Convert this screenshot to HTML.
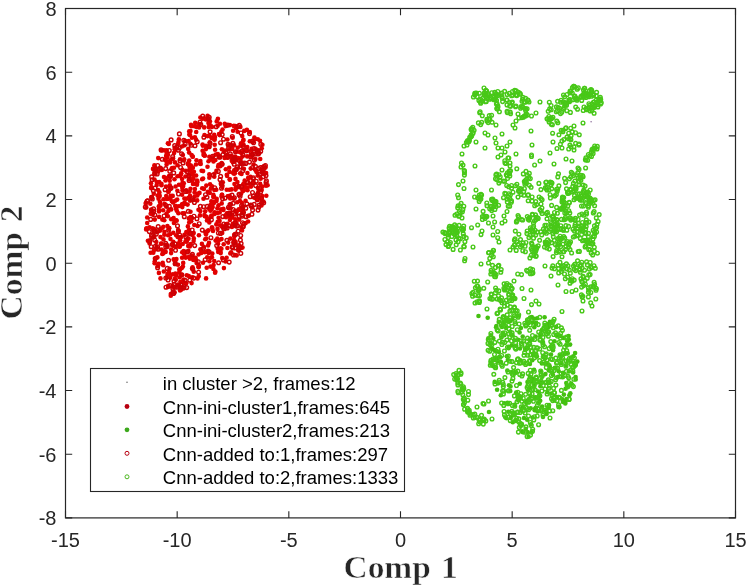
<!DOCTYPE html><html><head><meta charset="utf-8"><style>html,body{margin:0;padding:0;background:#fff;overflow:hidden;}svg{display:block}</style></head><body>
<svg width="748" height="585" viewBox="0 0 748 585">
<rect width="748" height="585" fill="#fff"/>
<g fill="#e20000"><circle cx="200.0" cy="215.4" r="2.3"/><circle cx="259.0" cy="198.2" r="2.3"/><circle cx="207.0" cy="220.5" r="2.3"/><circle cx="166.6" cy="206.7" r="2.3"/><circle cx="222.2" cy="258.1" r="2.3"/><circle cx="155.3" cy="168.5" r="2.3"/><circle cx="154.8" cy="261.2" r="2.3"/><circle cx="225.2" cy="225.6" r="2.3"/><circle cx="209.5" cy="123.9" r="2.3"/><circle cx="167.3" cy="157.3" r="2.3"/><circle cx="198.6" cy="267.2" r="2.3"/><circle cx="208.4" cy="230.2" r="2.3"/><circle cx="206.0" cy="234.2" r="2.3"/><circle cx="200.7" cy="163.9" r="2.3"/><circle cx="182.9" cy="155.0" r="2.3"/><circle cx="239.3" cy="186.3" r="2.3"/><circle cx="249.3" cy="183.7" r="2.3"/><circle cx="257.3" cy="199.0" r="2.3"/><circle cx="266.0" cy="185.7" r="2.3"/><circle cx="152.6" cy="228.2" r="2.3"/><circle cx="240.8" cy="162.4" r="2.3"/><circle cx="154.4" cy="173.9" r="2.3"/><circle cx="158.2" cy="158.1" r="2.3"/><circle cx="243.1" cy="145.5" r="2.3"/><circle cx="213.4" cy="194.9" r="2.3"/><circle cx="167.3" cy="246.9" r="2.3"/><circle cx="159.9" cy="230.8" r="2.3"/><circle cx="158.1" cy="190.0" r="2.3"/><circle cx="170.1" cy="162.4" r="2.3"/><circle cx="181.5" cy="274.9" r="2.3"/><circle cx="169.8" cy="185.2" r="2.3"/><circle cx="170.2" cy="160.3" r="2.3"/><circle cx="240.1" cy="173.2" r="2.3"/><circle cx="154.8" cy="219.6" r="2.3"/><circle cx="173.9" cy="223.0" r="2.3"/><circle cx="190.0" cy="195.9" r="2.3"/><circle cx="263.4" cy="201.5" r="2.3"/><circle cx="215.3" cy="271.6" r="2.3"/><circle cx="174.7" cy="147.7" r="2.3"/><circle cx="168.1" cy="286.9" r="2.3"/><circle cx="196.2" cy="132.0" r="2.3"/><circle cx="173.3" cy="241.9" r="2.3"/><circle cx="175.6" cy="263.7" r="2.3"/><circle cx="218.1" cy="166.7" r="2.3"/><circle cx="165.4" cy="244.8" r="2.3"/><circle cx="213.4" cy="269.0" r="2.3"/><circle cx="220.3" cy="164.3" r="2.3"/><circle cx="258.2" cy="150.3" r="2.3"/><circle cx="199.2" cy="124.1" r="2.3"/><circle cx="165.5" cy="180.5" r="2.3"/><circle cx="215.0" cy="137.1" r="2.3"/><circle cx="188.8" cy="276.0" r="2.3"/><circle cx="229.9" cy="220.0" r="2.3"/><circle cx="146.2" cy="229.4" r="2.3"/><circle cx="203.8" cy="246.7" r="2.3"/><circle cx="152.9" cy="212.9" r="2.3"/><circle cx="235.6" cy="241.8" r="2.3"/><circle cx="187.5" cy="238.4" r="2.3"/><circle cx="195.6" cy="257.7" r="2.3"/><circle cx="221.6" cy="183.0" r="2.3"/><circle cx="216.3" cy="224.4" r="2.3"/><circle cx="153.5" cy="230.0" r="2.3"/><circle cx="234.5" cy="184.1" r="2.3"/><circle cx="235.4" cy="219.3" r="2.3"/><circle cx="198.6" cy="266.4" r="2.3"/><circle cx="154.0" cy="250.3" r="2.3"/><circle cx="147.2" cy="223.0" r="2.3"/><circle cx="203.6" cy="155.1" r="2.3"/><circle cx="230.8" cy="204.0" r="2.3"/><circle cx="181.1" cy="237.1" r="2.3"/><circle cx="168.8" cy="144.0" r="2.3"/><circle cx="198.7" cy="276.2" r="2.3"/><circle cx="184.4" cy="234.9" r="2.3"/><circle cx="168.3" cy="191.9" r="2.3"/><circle cx="253.5" cy="183.3" r="2.3"/><circle cx="216.4" cy="170.9" r="2.3"/><circle cx="160.5" cy="203.9" r="2.3"/><circle cx="178.1" cy="144.0" r="2.3"/><circle cx="199.8" cy="163.4" r="2.3"/><circle cx="170.3" cy="188.8" r="2.3"/><circle cx="221.7" cy="203.4" r="2.3"/><circle cx="182.9" cy="266.6" r="2.3"/><circle cx="266.3" cy="195.8" r="2.3"/><circle cx="232.1" cy="217.4" r="2.3"/><circle cx="182.1" cy="257.8" r="2.3"/><circle cx="200.4" cy="117.5" r="2.3"/><circle cx="247.2" cy="156.4" r="2.3"/><circle cx="222.1" cy="194.7" r="2.3"/><circle cx="222.2" cy="232.9" r="2.3"/><circle cx="229.1" cy="149.5" r="2.3"/><circle cx="202.9" cy="145.7" r="2.3"/><circle cx="232.8" cy="145.8" r="2.3"/><circle cx="177.5" cy="176.3" r="2.3"/><circle cx="230.7" cy="208.2" r="2.3"/><circle cx="220.3" cy="251.4" r="2.3"/><circle cx="192.7" cy="257.9" r="2.3"/><circle cx="159.7" cy="196.0" r="2.3"/><circle cx="190.6" cy="217.1" r="2.3"/><circle cx="261.5" cy="197.9" r="2.3"/><circle cx="224.9" cy="150.5" r="2.3"/><circle cx="223.7" cy="244.3" r="2.3"/><circle cx="170.2" cy="277.7" r="2.3"/><circle cx="210.6" cy="257.7" r="2.3"/><circle cx="183.5" cy="279.5" r="2.3"/><circle cx="250.5" cy="176.8" r="2.3"/><circle cx="153.8" cy="193.7" r="2.3"/><circle cx="212.3" cy="253.6" r="2.3"/><circle cx="204.4" cy="118.2" r="2.3"/><circle cx="243.5" cy="144.6" r="2.3"/><circle cx="185.4" cy="257.2" r="2.3"/><circle cx="208.1" cy="245.4" r="2.3"/><circle cx="261.7" cy="203.1" r="2.3"/><circle cx="171.2" cy="209.4" r="2.3"/><circle cx="179.8" cy="246.4" r="2.3"/><circle cx="223.4" cy="208.7" r="2.3"/><circle cx="249.0" cy="215.5" r="2.3"/><circle cx="182.5" cy="182.8" r="2.3"/><circle cx="169.5" cy="268.7" r="2.3"/><circle cx="215.1" cy="149.8" r="2.3"/><circle cx="210.5" cy="205.1" r="2.3"/><circle cx="193.6" cy="259.6" r="2.3"/><circle cx="213.9" cy="202.9" r="2.3"/><circle cx="229.9" cy="125.1" r="2.3"/><circle cx="210.8" cy="188.7" r="2.3"/><circle cx="177.2" cy="199.6" r="2.3"/><circle cx="159.4" cy="192.4" r="2.3"/><circle cx="203.1" cy="171.1" r="2.3"/><circle cx="167.4" cy="226.1" r="2.3"/><circle cx="167.8" cy="154.6" r="2.3"/><circle cx="229.4" cy="171.9" r="2.3"/><circle cx="187.9" cy="226.4" r="2.3"/><circle cx="156.6" cy="246.8" r="2.3"/><circle cx="158.8" cy="206.4" r="2.3"/><circle cx="174.8" cy="149.2" r="2.3"/><circle cx="209.8" cy="192.9" r="2.3"/><circle cx="190.5" cy="188.7" r="2.3"/><circle cx="209.7" cy="142.2" r="2.3"/><circle cx="169.0" cy="228.5" r="2.3"/><circle cx="223.3" cy="209.9" r="2.3"/><circle cx="250.6" cy="155.6" r="2.3"/><circle cx="256.3" cy="170.8" r="2.3"/><circle cx="182.9" cy="281.9" r="2.3"/><circle cx="170.8" cy="295.7" r="2.3"/><circle cx="254.4" cy="137.5" r="2.3"/><circle cx="173.4" cy="246.0" r="2.3"/><circle cx="247.5" cy="190.2" r="2.3"/><circle cx="242.2" cy="136.1" r="2.3"/><circle cx="193.8" cy="238.4" r="2.3"/><circle cx="206.7" cy="251.7" r="2.3"/><circle cx="206.3" cy="238.5" r="2.3"/><circle cx="212.5" cy="207.2" r="2.3"/><circle cx="214.6" cy="139.8" r="2.3"/><circle cx="166.6" cy="150.3" r="2.3"/><circle cx="201.3" cy="252.9" r="2.3"/><circle cx="184.4" cy="198.5" r="2.3"/><circle cx="207.9" cy="191.7" r="2.3"/><circle cx="166.2" cy="196.1" r="2.3"/><circle cx="235.9" cy="187.2" r="2.3"/><circle cx="167.9" cy="143.2" r="2.3"/><circle cx="207.6" cy="115.8" r="2.3"/><circle cx="222.2" cy="187.0" r="2.3"/><circle cx="218.5" cy="205.3" r="2.3"/><circle cx="175.8" cy="279.8" r="2.3"/><circle cx="236.6" cy="255.4" r="2.3"/><circle cx="245.3" cy="187.2" r="2.3"/><circle cx="230.3" cy="253.4" r="2.3"/><circle cx="239.2" cy="187.3" r="2.3"/><circle cx="233.8" cy="125.9" r="2.3"/><circle cx="186.2" cy="198.8" r="2.3"/><circle cx="223.3" cy="227.2" r="2.3"/><circle cx="172.5" cy="285.9" r="2.3"/><circle cx="226.8" cy="174.8" r="2.3"/><circle cx="226.0" cy="217.2" r="2.3"/><circle cx="210.1" cy="184.3" r="2.3"/><circle cx="231.2" cy="252.4" r="2.3"/><circle cx="220.4" cy="248.2" r="2.3"/><circle cx="175.6" cy="186.5" r="2.3"/><circle cx="190.5" cy="131.0" r="2.3"/><circle cx="174.9" cy="278.7" r="2.3"/><circle cx="212.3" cy="205.9" r="2.3"/><circle cx="218.2" cy="251.9" r="2.3"/><circle cx="163.5" cy="199.3" r="2.3"/><circle cx="164.6" cy="203.7" r="2.3"/><circle cx="219.9" cy="123.7" r="2.3"/><circle cx="261.7" cy="190.0" r="2.3"/><circle cx="209.3" cy="222.4" r="2.3"/><circle cx="189.2" cy="165.3" r="2.3"/><circle cx="225.4" cy="215.6" r="2.3"/><circle cx="178.9" cy="244.1" r="2.3"/><circle cx="163.1" cy="251.1" r="2.3"/><circle cx="192.2" cy="277.3" r="2.3"/><circle cx="197.2" cy="200.4" r="2.3"/><circle cx="233.8" cy="198.7" r="2.3"/><circle cx="219.0" cy="134.1" r="2.3"/><circle cx="221.5" cy="196.4" r="2.3"/><circle cx="209.5" cy="135.8" r="2.3"/><circle cx="198.9" cy="235.2" r="2.3"/><circle cx="200.4" cy="161.0" r="2.3"/><circle cx="216.3" cy="189.8" r="2.3"/><circle cx="240.7" cy="210.1" r="2.3"/><circle cx="235.3" cy="156.6" r="2.3"/><circle cx="241.5" cy="227.4" r="2.3"/><circle cx="188.4" cy="162.7" r="2.3"/><circle cx="229.1" cy="216.4" r="2.3"/><circle cx="217.5" cy="228.9" r="2.3"/><circle cx="237.7" cy="147.7" r="2.3"/><circle cx="174.6" cy="292.3" r="2.3"/><circle cx="177.4" cy="190.8" r="2.3"/><circle cx="221.4" cy="131.8" r="2.3"/><circle cx="211.2" cy="126.3" r="2.3"/><circle cx="154.3" cy="236.8" r="2.3"/><circle cx="212.3" cy="228.5" r="2.3"/><circle cx="190.1" cy="200.6" r="2.3"/><circle cx="169.8" cy="175.9" r="2.3"/><circle cx="239.6" cy="152.0" r="2.3"/><circle cx="196.5" cy="160.2" r="2.3"/><circle cx="244.7" cy="180.5" r="2.3"/><circle cx="184.2" cy="213.4" r="2.3"/><circle cx="197.0" cy="180.6" r="2.3"/><circle cx="214.0" cy="201.7" r="2.3"/><circle cx="229.2" cy="167.7" r="2.3"/><circle cx="240.4" cy="126.9" r="2.3"/><circle cx="170.2" cy="234.2" r="2.3"/><circle cx="153.7" cy="168.6" r="2.3"/><circle cx="234.1" cy="240.0" r="2.3"/><circle cx="178.9" cy="139.2" r="2.3"/><circle cx="188.2" cy="245.9" r="2.3"/><circle cx="189.3" cy="134.5" r="2.3"/><circle cx="232.2" cy="217.2" r="2.3"/><circle cx="257.7" cy="193.2" r="2.3"/><circle cx="243.9" cy="168.8" r="2.3"/><circle cx="183.2" cy="186.1" r="2.3"/><circle cx="174.5" cy="179.2" r="2.3"/><circle cx="189.2" cy="179.5" r="2.3"/><circle cx="193.0" cy="183.9" r="2.3"/><circle cx="167.9" cy="216.2" r="2.3"/><circle cx="243.1" cy="211.9" r="2.3"/><circle cx="248.0" cy="216.0" r="2.3"/><circle cx="165.6" cy="251.9" r="2.3"/><circle cx="253.6" cy="164.5" r="2.3"/><circle cx="146.3" cy="207.4" r="2.3"/><circle cx="211.5" cy="216.8" r="2.3"/><circle cx="211.9" cy="257.2" r="2.3"/><circle cx="154.1" cy="229.0" r="2.3"/><circle cx="161.5" cy="249.5" r="2.3"/><circle cx="224.6" cy="157.9" r="2.3"/><circle cx="171.1" cy="253.1" r="2.3"/><circle cx="208.7" cy="252.9" r="2.3"/><circle cx="192.8" cy="174.8" r="2.3"/><circle cx="205.2" cy="211.3" r="2.3"/><circle cx="233.6" cy="242.6" r="2.3"/><circle cx="257.9" cy="188.1" r="2.3"/><circle cx="209.0" cy="242.9" r="2.3"/><circle cx="243.8" cy="190.2" r="2.3"/><circle cx="196.1" cy="139.8" r="2.3"/><circle cx="190.4" cy="143.7" r="2.3"/><circle cx="169.0" cy="190.8" r="2.3"/><circle cx="180.0" cy="290.5" r="2.3"/><circle cx="157.9" cy="231.6" r="2.3"/><circle cx="240.5" cy="145.8" r="2.3"/><circle cx="151.3" cy="197.0" r="2.3"/><circle cx="166.6" cy="152.8" r="2.3"/><circle cx="172.9" cy="244.3" r="2.3"/><circle cx="217.8" cy="154.0" r="2.3"/><circle cx="166.6" cy="164.4" r="2.3"/><circle cx="165.1" cy="251.6" r="2.3"/><circle cx="182.5" cy="213.3" r="2.3"/><circle cx="245.6" cy="200.7" r="2.3"/><circle cx="176.1" cy="275.4" r="2.3"/><circle cx="257.8" cy="175.6" r="2.3"/><circle cx="203.8" cy="153.4" r="2.3"/><circle cx="243.7" cy="183.5" r="2.3"/><circle cx="209.4" cy="207.4" r="2.3"/><circle cx="225.7" cy="156.5" r="2.3"/><circle cx="189.9" cy="258.8" r="2.3"/><circle cx="232.7" cy="223.9" r="2.3"/><circle cx="183.7" cy="160.5" r="2.3"/><circle cx="252.2" cy="207.5" r="2.3"/><circle cx="176.8" cy="210.8" r="2.3"/><circle cx="162.3" cy="254.0" r="2.3"/><circle cx="233.1" cy="130.8" r="2.3"/><circle cx="203.5" cy="198.8" r="2.3"/><circle cx="250.7" cy="168.6" r="2.3"/><circle cx="242.2" cy="189.3" r="2.3"/><circle cx="246.8" cy="151.1" r="2.3"/><circle cx="211.4" cy="209.2" r="2.3"/><circle cx="163.2" cy="265.3" r="2.3"/><circle cx="182.4" cy="169.9" r="2.3"/><circle cx="153.0" cy="168.9" r="2.3"/><circle cx="201.9" cy="243.9" r="2.3"/><circle cx="188.5" cy="238.7" r="2.3"/><circle cx="156.7" cy="185.1" r="2.3"/><circle cx="232.3" cy="156.5" r="2.3"/><circle cx="214.0" cy="196.8" r="2.3"/><circle cx="243.4" cy="150.8" r="2.3"/><circle cx="220.5" cy="166.1" r="2.3"/><circle cx="190.5" cy="211.8" r="2.3"/><circle cx="180.8" cy="174.7" r="2.3"/><circle cx="192.5" cy="235.0" r="2.3"/><circle cx="175.6" cy="149.6" r="2.3"/><circle cx="234.9" cy="173.3" r="2.3"/><circle cx="234.0" cy="173.7" r="2.3"/><circle cx="246.9" cy="129.9" r="2.3"/><circle cx="228.2" cy="242.6" r="2.3"/><circle cx="166.0" cy="186.6" r="2.3"/><circle cx="248.1" cy="221.5" r="2.3"/><circle cx="194.4" cy="126.3" r="2.3"/><circle cx="258.6" cy="191.1" r="2.3"/><circle cx="207.4" cy="231.4" r="2.3"/><circle cx="191.7" cy="173.6" r="2.3"/><circle cx="193.6" cy="241.1" r="2.3"/><circle cx="226.0" cy="224.4" r="2.3"/><circle cx="186.3" cy="232.1" r="2.3"/><circle cx="156.8" cy="182.1" r="2.3"/><circle cx="207.2" cy="257.3" r="2.3"/><circle cx="163.3" cy="253.3" r="2.3"/><circle cx="187.6" cy="204.6" r="2.3"/><circle cx="161.2" cy="243.6" r="2.3"/><circle cx="168.2" cy="285.9" r="2.3"/><circle cx="221.9" cy="149.2" r="2.3"/><circle cx="215.6" cy="240.6" r="2.3"/><circle cx="184.6" cy="283.0" r="2.3"/><circle cx="188.6" cy="197.7" r="2.3"/><circle cx="160.5" cy="278.4" r="2.3"/><circle cx="211.4" cy="215.6" r="2.3"/><circle cx="213.5" cy="161.4" r="2.3"/><circle cx="245.7" cy="223.1" r="2.3"/><circle cx="158.8" cy="263.9" r="2.3"/><circle cx="179.6" cy="277.2" r="2.3"/><circle cx="173.6" cy="218.0" r="2.3"/><circle cx="247.3" cy="147.0" r="2.3"/><circle cx="212.0" cy="127.0" r="2.3"/><circle cx="225.8" cy="169.3" r="2.3"/><circle cx="227.4" cy="248.0" r="2.3"/><circle cx="191.2" cy="221.3" r="2.3"/><circle cx="168.4" cy="198.6" r="2.3"/><circle cx="161.4" cy="183.7" r="2.3"/><circle cx="214.7" cy="144.8" r="2.3"/><circle cx="208.5" cy="161.2" r="2.3"/><circle cx="214.5" cy="173.8" r="2.3"/><circle cx="227.4" cy="139.5" r="2.3"/><circle cx="202.2" cy="188.3" r="2.3"/><circle cx="221.5" cy="239.1" r="2.3"/><circle cx="238.3" cy="250.6" r="2.3"/><circle cx="194.6" cy="192.4" r="2.3"/><circle cx="209.2" cy="209.1" r="2.3"/><circle cx="197.5" cy="278.5" r="2.3"/><circle cx="235.0" cy="222.3" r="2.3"/><circle cx="237.5" cy="168.8" r="2.3"/><circle cx="217.7" cy="125.8" r="2.3"/><circle cx="159.1" cy="194.8" r="2.3"/><circle cx="206.3" cy="185.6" r="2.3"/><circle cx="150.0" cy="240.2" r="2.3"/><circle cx="209.3" cy="156.8" r="2.3"/><circle cx="181.8" cy="185.4" r="2.3"/><circle cx="196.2" cy="260.4" r="2.3"/><circle cx="171.2" cy="249.6" r="2.3"/><circle cx="155.8" cy="258.0" r="2.3"/><circle cx="159.0" cy="211.4" r="2.3"/><circle cx="174.0" cy="167.8" r="2.3"/><circle cx="193.2" cy="178.2" r="2.3"/><circle cx="216.7" cy="121.4" r="2.3"/><circle cx="182.0" cy="204.2" r="2.3"/><circle cx="202.6" cy="150.8" r="2.3"/><circle cx="180.4" cy="281.8" r="2.3"/><circle cx="255.6" cy="148.8" r="2.3"/><circle cx="248.2" cy="177.8" r="2.3"/><circle cx="202.6" cy="144.5" r="2.3"/><circle cx="168.8" cy="228.7" r="2.3"/><circle cx="167.4" cy="274.1" r="2.3"/><circle cx="234.2" cy="170.3" r="2.3"/><circle cx="232.6" cy="137.7" r="2.3"/><circle cx="199.1" cy="127.5" r="2.3"/><circle cx="171.4" cy="169.2" r="2.3"/><circle cx="232.3" cy="149.0" r="2.3"/><circle cx="166.1" cy="156.1" r="2.3"/><circle cx="226.6" cy="257.7" r="2.3"/><circle cx="190.1" cy="234.1" r="2.3"/><circle cx="172.1" cy="168.1" r="2.3"/><circle cx="178.1" cy="230.1" r="2.3"/><circle cx="198.5" cy="209.7" r="2.3"/><circle cx="209.9" cy="121.3" r="2.3"/><circle cx="218.5" cy="165.1" r="2.3"/><circle cx="174.9" cy="260.0" r="2.3"/><circle cx="154.4" cy="165.2" r="2.3"/><circle cx="238.0" cy="158.0" r="2.3"/><circle cx="178.4" cy="213.3" r="2.3"/><circle cx="166.8" cy="277.2" r="2.3"/><circle cx="201.2" cy="250.4" r="2.3"/><circle cx="191.6" cy="283.1" r="2.3"/><circle cx="206.0" cy="145.9" r="2.3"/><circle cx="213.0" cy="231.0" r="2.3"/><circle cx="188.5" cy="233.5" r="2.3"/><circle cx="241.4" cy="207.6" r="2.3"/><circle cx="206.7" cy="267.7" r="2.3"/><circle cx="229.0" cy="208.3" r="2.3"/><circle cx="262.4" cy="144.8" r="2.3"/><circle cx="241.0" cy="143.2" r="2.3"/><circle cx="219.5" cy="156.1" r="2.3"/><circle cx="198.6" cy="254.5" r="2.3"/><circle cx="173.0" cy="202.5" r="2.3"/><circle cx="171.2" cy="219.2" r="2.3"/><circle cx="205.9" cy="119.5" r="2.3"/><circle cx="218.1" cy="243.8" r="2.3"/><circle cx="215.1" cy="272.7" r="2.3"/><circle cx="145.7" cy="203.8" r="2.3"/><circle cx="197.8" cy="193.8" r="2.3"/><circle cx="176.4" cy="259.1" r="2.3"/><circle cx="214.6" cy="212.4" r="2.3"/><circle cx="242.5" cy="156.5" r="2.3"/><circle cx="161.8" cy="169.9" r="2.3"/><circle cx="221.1" cy="209.2" r="2.3"/><circle cx="176.6" cy="220.7" r="2.3"/><circle cx="154.6" cy="263.2" r="2.3"/><circle cx="164.9" cy="159.6" r="2.3"/><circle cx="163.5" cy="239.4" r="2.3"/><circle cx="151.1" cy="188.1" r="2.3"/><circle cx="189.1" cy="152.6" r="2.3"/><circle cx="204.7" cy="252.3" r="2.3"/><circle cx="200.4" cy="249.3" r="2.3"/><circle cx="254.8" cy="138.9" r="2.3"/><circle cx="192.6" cy="167.5" r="2.3"/><circle cx="196.6" cy="127.0" r="2.3"/><circle cx="238.9" cy="247.3" r="2.3"/><circle cx="172.2" cy="159.3" r="2.3"/><circle cx="212.5" cy="157.2" r="2.3"/><circle cx="189.0" cy="174.7" r="2.3"/><circle cx="224.7" cy="123.7" r="2.3"/><circle cx="186.4" cy="240.1" r="2.3"/><circle cx="254.3" cy="197.7" r="2.3"/><circle cx="192.6" cy="267.3" r="2.3"/><circle cx="191.1" cy="256.0" r="2.3"/><circle cx="170.4" cy="176.6" r="2.3"/><circle cx="166.5" cy="213.6" r="2.3"/><circle cx="164.0" cy="150.3" r="2.3"/><circle cx="170.3" cy="198.6" r="2.3"/><circle cx="182.1" cy="194.8" r="2.3"/><circle cx="251.3" cy="150.4" r="2.3"/><circle cx="191.4" cy="126.3" r="2.3"/><circle cx="229.9" cy="179.4" r="2.3"/><circle cx="166.3" cy="161.0" r="2.3"/><circle cx="232.9" cy="162.2" r="2.3"/><circle cx="188.6" cy="141.1" r="2.3"/><circle cx="260.6" cy="178.8" r="2.3"/><circle cx="239.2" cy="245.4" r="2.3"/><circle cx="183.8" cy="183.3" r="2.3"/><circle cx="184.2" cy="254.0" r="2.3"/><circle cx="208.4" cy="123.0" r="2.3"/><circle cx="192.7" cy="156.6" r="2.3"/><circle cx="217.9" cy="118.8" r="2.3"/><circle cx="182.5" cy="190.6" r="2.3"/><circle cx="211.5" cy="137.9" r="2.3"/><circle cx="231.8" cy="160.7" r="2.3"/><circle cx="234.2" cy="234.9" r="2.3"/><circle cx="161.9" cy="150.5" r="2.3"/><circle cx="178.5" cy="243.4" r="2.3"/><circle cx="194.2" cy="183.7" r="2.3"/><circle cx="251.7" cy="154.4" r="2.3"/><circle cx="180.0" cy="176.1" r="2.3"/><circle cx="146.6" cy="228.4" r="2.3"/><circle cx="214.2" cy="261.0" r="2.3"/><circle cx="265.5" cy="167.6" r="2.3"/><circle cx="170.5" cy="239.1" r="2.3"/><circle cx="252.0" cy="155.9" r="2.3"/><circle cx="222.6" cy="129.5" r="2.3"/><circle cx="197.0" cy="184.8" r="2.3"/><circle cx="151.0" cy="183.2" r="2.3"/><circle cx="184.5" cy="204.0" r="2.3"/><circle cx="178.5" cy="142.0" r="2.3"/><circle cx="193.8" cy="200.0" r="2.3"/><circle cx="164.3" cy="234.7" r="2.3"/><circle cx="186.2" cy="190.3" r="2.3"/><circle cx="162.3" cy="219.6" r="2.3"/><circle cx="231.2" cy="214.2" r="2.3"/><circle cx="192.4" cy="179.7" r="2.3"/><circle cx="151.4" cy="187.0" r="2.3"/><circle cx="150.3" cy="203.7" r="2.3"/><circle cx="216.7" cy="198.8" r="2.3"/><circle cx="184.2" cy="159.4" r="2.3"/><circle cx="176.2" cy="235.3" r="2.3"/><circle cx="166.8" cy="198.9" r="2.3"/><circle cx="188.8" cy="218.4" r="2.3"/><circle cx="221.9" cy="226.6" r="2.3"/><circle cx="194.9" cy="189.0" r="2.3"/><circle cx="178.0" cy="264.8" r="2.3"/><circle cx="253.5" cy="182.9" r="2.3"/><circle cx="160.5" cy="205.8" r="2.3"/><circle cx="182.1" cy="179.0" r="2.3"/><circle cx="167.6" cy="154.8" r="2.3"/><circle cx="228.5" cy="155.9" r="2.3"/><circle cx="192.7" cy="156.8" r="2.3"/><circle cx="205.2" cy="232.0" r="2.3"/><circle cx="212.0" cy="227.3" r="2.3"/><circle cx="213.6" cy="265.1" r="2.3"/><circle cx="264.6" cy="174.0" r="2.3"/><circle cx="186.8" cy="275.2" r="2.3"/><circle cx="182.7" cy="244.0" r="2.3"/><circle cx="230.4" cy="238.6" r="2.3"/><circle cx="163.4" cy="226.8" r="2.3"/><circle cx="204.8" cy="216.2" r="2.3"/><circle cx="189.7" cy="165.3" r="2.3"/><circle cx="237.1" cy="210.7" r="2.3"/><circle cx="173.1" cy="158.6" r="2.3"/><circle cx="184.1" cy="145.5" r="2.3"/><circle cx="207.7" cy="136.1" r="2.3"/><circle cx="156.3" cy="242.0" r="2.3"/><circle cx="157.6" cy="195.6" r="2.3"/><circle cx="240.0" cy="201.0" r="2.3"/><circle cx="163.8" cy="271.5" r="2.3"/><circle cx="175.2" cy="205.9" r="2.3"/><circle cx="243.1" cy="184.8" r="2.3"/><circle cx="233.0" cy="159.1" r="2.3"/><circle cx="233.0" cy="172.8" r="2.3"/><circle cx="185.2" cy="251.9" r="2.3"/><circle cx="214.4" cy="190.0" r="2.3"/><circle cx="231.9" cy="227.0" r="2.3"/><circle cx="159.2" cy="182.0" r="2.3"/><circle cx="227.2" cy="155.3" r="2.3"/><circle cx="229.4" cy="189.7" r="2.3"/><circle cx="222.4" cy="185.6" r="2.3"/><circle cx="149.6" cy="243.5" r="2.3"/><circle cx="179.3" cy="246.8" r="2.3"/><circle cx="211.3" cy="201.4" r="2.3"/><circle cx="190.2" cy="169.6" r="2.3"/><circle cx="179.0" cy="184.7" r="2.3"/><circle cx="220.7" cy="253.1" r="2.3"/><circle cx="266.1" cy="184.3" r="2.3"/><circle cx="230.3" cy="212.9" r="2.3"/><circle cx="243.5" cy="139.9" r="2.3"/><circle cx="260.2" cy="159.0" r="2.3"/><circle cx="204.5" cy="135.0" r="2.3"/><circle cx="214.2" cy="139.3" r="2.3"/><circle cx="221.7" cy="163.1" r="2.3"/><circle cx="171.9" cy="201.2" r="2.3"/><circle cx="189.2" cy="160.5" r="2.3"/><circle cx="255.1" cy="169.6" r="2.3"/><circle cx="168.8" cy="271.7" r="2.3"/><circle cx="204.0" cy="188.9" r="2.3"/><circle cx="244.4" cy="185.5" r="2.3"/><circle cx="150.7" cy="213.8" r="2.3"/><circle cx="225.6" cy="227.0" r="2.3"/><circle cx="178.1" cy="284.8" r="2.3"/><circle cx="198.9" cy="265.6" r="2.3"/><circle cx="234.1" cy="145.2" r="2.3"/><circle cx="188.4" cy="250.9" r="2.3"/><circle cx="182.3" cy="207.1" r="2.3"/><circle cx="209.4" cy="261.3" r="2.3"/><circle cx="242.5" cy="247.6" r="2.3"/><circle cx="193.4" cy="260.0" r="2.3"/><circle cx="262.3" cy="186.6" r="2.3"/><circle cx="231.7" cy="158.8" r="2.3"/><circle cx="215.6" cy="154.6" r="2.3"/><circle cx="192.1" cy="180.6" r="2.3"/><circle cx="225.6" cy="261.4" r="2.3"/><circle cx="189.1" cy="229.8" r="2.3"/><circle cx="187.8" cy="164.1" r="2.3"/><circle cx="256.6" cy="171.9" r="2.3"/><circle cx="155.3" cy="174.3" r="2.3"/><circle cx="236.2" cy="151.7" r="2.3"/><circle cx="236.4" cy="213.0" r="2.3"/><circle cx="228.5" cy="145.4" r="2.3"/><circle cx="187.3" cy="191.8" r="2.3"/><circle cx="193.9" cy="171.8" r="2.3"/><circle cx="169.1" cy="274.1" r="2.3"/><circle cx="183.6" cy="251.0" r="2.3"/><circle cx="171.0" cy="187.7" r="2.3"/><circle cx="231.8" cy="145.5" r="2.3"/><circle cx="177.7" cy="236.9" r="2.3"/><circle cx="262.0" cy="172.0" r="2.3"/><circle cx="166.4" cy="178.4" r="2.3"/><circle cx="222.8" cy="182.2" r="2.3"/><circle cx="224.0" cy="151.8" r="2.3"/><circle cx="206.6" cy="216.9" r="2.3"/><circle cx="157.8" cy="266.3" r="2.3"/><circle cx="229.7" cy="195.9" r="2.3"/><circle cx="226.7" cy="189.7" r="2.3"/><circle cx="191.6" cy="155.1" r="2.3"/><circle cx="218.6" cy="217.8" r="2.3"/><circle cx="207.9" cy="118.9" r="2.3"/><circle cx="221.9" cy="194.8" r="2.3"/><circle cx="217.7" cy="221.8" r="2.3"/><circle cx="260.0" cy="140.8" r="2.3"/><circle cx="235.7" cy="170.3" r="2.3"/><circle cx="193.8" cy="271.7" r="2.3"/><circle cx="204.9" cy="155.8" r="2.3"/><circle cx="243.2" cy="206.6" r="2.3"/><circle cx="174.8" cy="260.7" r="2.3"/><circle cx="200.3" cy="211.1" r="2.3"/><circle cx="251.7" cy="148.9" r="2.3"/><circle cx="178.5" cy="230.8" r="2.3"/><circle cx="152.7" cy="214.6" r="2.3"/><circle cx="241.9" cy="202.8" r="2.3"/><circle cx="173.7" cy="259.4" r="2.3"/><circle cx="243.1" cy="140.8" r="2.3"/><circle cx="189.2" cy="131.4" r="2.3"/><circle cx="192.1" cy="268.4" r="2.3"/><circle cx="169.3" cy="228.1" r="2.3"/><circle cx="168.1" cy="235.3" r="2.3"/><circle cx="185.9" cy="170.7" r="2.3"/><circle cx="222.2" cy="164.0" r="2.3"/><circle cx="218.9" cy="240.2" r="2.3"/><circle cx="230.2" cy="198.4" r="2.3"/><circle cx="188.2" cy="148.9" r="2.3"/><circle cx="235.5" cy="178.9" r="2.3"/><circle cx="182.3" cy="187.7" r="2.3"/><circle cx="161.8" cy="228.5" r="2.3"/><circle cx="196.6" cy="263.1" r="2.3"/><circle cx="194.6" cy="196.6" r="2.3"/><circle cx="186.8" cy="241.8" r="2.3"/><circle cx="172.9" cy="219.0" r="2.3"/><circle cx="179.1" cy="272.7" r="2.3"/><circle cx="179.3" cy="269.4" r="2.3"/><circle cx="228.1" cy="196.3" r="2.3"/><circle cx="260.2" cy="183.9" r="2.3"/><circle cx="236.4" cy="223.0" r="2.3"/><circle cx="199.6" cy="124.7" r="2.3"/><circle cx="195.9" cy="164.5" r="2.3"/><circle cx="180.1" cy="240.2" r="2.3"/><circle cx="227.5" cy="157.8" r="2.3"/><circle cx="194.9" cy="137.2" r="2.3"/><circle cx="255.4" cy="159.1" r="2.3"/><circle cx="196.1" cy="175.5" r="2.3"/><circle cx="217.3" cy="212.9" r="2.3"/><circle cx="154.5" cy="179.5" r="2.3"/><circle cx="190.3" cy="245.3" r="2.3"/><circle cx="227.1" cy="175.9" r="2.3"/><circle cx="146.4" cy="228.8" r="2.3"/><circle cx="202.1" cy="179.2" r="2.3"/><circle cx="201.6" cy="170.8" r="2.3"/><circle cx="227.4" cy="223.8" r="2.3"/><circle cx="267.6" cy="185.3" r="2.3"/><circle cx="151.8" cy="197.6" r="2.3"/><circle cx="193.7" cy="233.1" r="2.3"/><circle cx="170.8" cy="294.1" r="2.3"/><circle cx="169.7" cy="180.7" r="2.3"/><circle cx="161.4" cy="185.2" r="2.3"/><circle cx="236.2" cy="128.3" r="2.3"/><circle cx="164.4" cy="231.8" r="2.3"/><circle cx="221.4" cy="248.8" r="2.3"/><circle cx="175.2" cy="261.5" r="2.3"/><circle cx="234.9" cy="255.0" r="2.3"/><circle cx="158.5" cy="198.8" r="2.3"/><circle cx="210.5" cy="210.7" r="2.3"/><circle cx="157.4" cy="257.4" r="2.3"/><circle cx="181.2" cy="205.8" r="2.3"/><circle cx="159.1" cy="216.9" r="2.3"/><circle cx="207.5" cy="166.8" r="2.3"/><circle cx="240.7" cy="158.2" r="2.3"/><circle cx="195.2" cy="122.9" r="2.3"/><circle cx="170.7" cy="195.7" r="2.3"/><circle cx="213.3" cy="197.1" r="2.3"/><circle cx="249.8" cy="132.1" r="2.3"/><circle cx="249.8" cy="141.3" r="2.3"/><circle cx="194.3" cy="225.0" r="2.3"/><circle cx="162.7" cy="262.8" r="2.3"/><circle cx="235.3" cy="243.4" r="2.3"/><circle cx="163.1" cy="210.2" r="2.3"/><circle cx="181.1" cy="289.8" r="2.3"/><circle cx="223.9" cy="268.1" r="2.3"/><circle cx="184.6" cy="202.5" r="2.3"/><circle cx="206.1" cy="278.4" r="2.3"/><circle cx="192.8" cy="167.8" r="2.3"/><circle cx="235.9" cy="160.3" r="2.3"/><circle cx="189.5" cy="191.6" r="2.3"/><circle cx="203.1" cy="178.6" r="2.3"/><circle cx="197.3" cy="195.5" r="2.3"/><circle cx="151.2" cy="209.6" r="2.3"/><circle cx="211.9" cy="186.2" r="2.3"/><circle cx="190.0" cy="170.5" r="2.3"/><circle cx="204.0" cy="155.1" r="2.3"/><circle cx="237.2" cy="202.2" r="2.3"/><circle cx="189.2" cy="222.4" r="2.3"/><circle cx="189.6" cy="168.1" r="2.3"/><circle cx="219.6" cy="220.9" r="2.3"/><circle cx="182.9" cy="204.1" r="2.3"/><circle cx="208.0" cy="250.9" r="2.3"/><circle cx="175.0" cy="162.4" r="2.3"/><circle cx="243.0" cy="190.9" r="2.3"/><circle cx="251.0" cy="186.6" r="2.3"/><circle cx="179.2" cy="237.4" r="2.3"/><circle cx="247.4" cy="173.1" r="2.3"/><circle cx="183.2" cy="262.9" r="2.3"/><circle cx="242.0" cy="230.5" r="2.3"/><circle cx="150.6" cy="252.7" r="2.3"/><circle cx="149.5" cy="227.3" r="2.3"/><circle cx="235.6" cy="189.6" r="2.3"/><circle cx="241.2" cy="193.6" r="2.3"/><circle cx="237.4" cy="182.1" r="2.3"/><circle cx="199.5" cy="192.9" r="2.3"/><circle cx="158.2" cy="171.5" r="2.3"/><circle cx="235.3" cy="126.1" r="2.3"/><circle cx="158.0" cy="265.6" r="2.3"/><circle cx="226.8" cy="213.3" r="2.3"/><circle cx="182.3" cy="287.6" r="2.3"/><circle cx="169.9" cy="188.9" r="2.3"/><circle cx="210.5" cy="266.6" r="2.3"/><circle cx="158.9" cy="272.9" r="2.3"/><circle cx="202.5" cy="118.7" r="2.3"/><circle cx="197.5" cy="182.1" r="2.3"/><circle cx="205.2" cy="239.2" r="2.3"/><circle cx="192.0" cy="255.5" r="2.3"/><circle cx="156.7" cy="248.8" r="2.3"/><circle cx="164.3" cy="220.2" r="2.3"/><circle cx="168.8" cy="176.4" r="2.3"/><circle cx="164.0" cy="177.0" r="2.3"/><circle cx="217.4" cy="208.2" r="2.3"/><circle cx="192.1" cy="218.1" r="2.3"/><circle cx="248.8" cy="178.6" r="2.3"/><circle cx="216.5" cy="200.9" r="2.3"/><circle cx="266.1" cy="173.0" r="2.3"/><circle cx="230.7" cy="155.7" r="2.3"/><circle cx="176.2" cy="246.7" r="2.3"/><circle cx="215.4" cy="160.0" r="2.3"/><circle cx="190.7" cy="244.1" r="2.3"/><circle cx="197.6" cy="226.0" r="2.3"/><circle cx="257.2" cy="196.4" r="2.3"/><circle cx="204.4" cy="155.3" r="2.3"/><circle cx="237.6" cy="131.7" r="2.3"/><circle cx="181.8" cy="268.1" r="2.3"/><circle cx="147.9" cy="240.8" r="2.3"/><circle cx="214.5" cy="213.9" r="2.3"/><circle cx="185.1" cy="140.7" r="2.3"/><circle cx="244.2" cy="130.9" r="2.3"/><circle cx="241.5" cy="153.0" r="2.3"/><circle cx="168.4" cy="210.9" r="2.3"/><circle cx="219.7" cy="135.1" r="2.3"/><circle cx="239.1" cy="219.6" r="2.3"/><circle cx="229.7" cy="179.6" r="2.3"/><circle cx="179.9" cy="269.9" r="2.3"/><circle cx="234.4" cy="161.4" r="2.3"/><circle cx="210.7" cy="159.4" r="2.3"/><circle cx="180.1" cy="159.3" r="2.3"/><circle cx="159.9" cy="201.7" r="2.3"/><circle cx="177.6" cy="165.2" r="2.3"/><circle cx="178.2" cy="206.2" r="2.3"/><circle cx="252.7" cy="142.3" r="2.3"/><circle cx="219.7" cy="212.5" r="2.3"/><circle cx="235.2" cy="210.8" r="2.3"/><circle cx="240.4" cy="160.6" r="2.3"/><circle cx="188.8" cy="257.1" r="2.3"/><circle cx="172.7" cy="195.9" r="2.3"/><circle cx="189.8" cy="246.4" r="2.3"/><circle cx="261.5" cy="205.5" r="2.3"/><circle cx="214.3" cy="176.8" r="2.3"/><circle cx="172.5" cy="286.8" r="2.3"/><circle cx="225.6" cy="126.1" r="2.3"/><circle cx="214.2" cy="134.9" r="2.3"/><circle cx="226.8" cy="125.4" r="2.3"/><circle cx="147.2" cy="217.5" r="2.3"/><circle cx="208.6" cy="127.1" r="2.3"/><circle cx="209.4" cy="146.8" r="2.3"/><circle cx="209.3" cy="177.8" r="2.3"/><circle cx="205.9" cy="149.1" r="2.3"/><circle cx="231.6" cy="189.4" r="2.3"/><circle cx="204.2" cy="127.4" r="2.3"/><circle cx="204.4" cy="215.0" r="2.3"/><circle cx="160.4" cy="167.9" r="2.3"/><circle cx="185.5" cy="241.5" r="2.3"/><circle cx="146.0" cy="202.6" r="2.3"/><circle cx="217.3" cy="238.5" r="2.3"/><circle cx="220.1" cy="225.2" r="2.3"/><circle cx="208.5" cy="219.2" r="2.3"/><circle cx="247.7" cy="187.6" r="2.3"/><circle cx="185.4" cy="176.5" r="2.3"/><circle cx="176.3" cy="220.2" r="2.3"/><circle cx="209.3" cy="174.4" r="2.3"/><circle cx="227.9" cy="196.2" r="2.3"/><circle cx="172.8" cy="274.4" r="2.3"/><circle cx="175.2" cy="200.7" r="2.3"/><circle cx="241.5" cy="173.9" r="2.3"/><circle cx="173.3" cy="232.7" r="2.3"/><circle cx="176.0" cy="208.7" r="2.3"/><circle cx="175.4" cy="273.5" r="2.3"/><circle cx="166.6" cy="155.5" r="2.3"/><circle cx="181.2" cy="173.3" r="2.3"/><circle cx="234.3" cy="236.4" r="2.3"/><circle cx="242.3" cy="211.8" r="2.3"/><circle cx="153.3" cy="252.7" r="2.3"/><circle cx="174.1" cy="152.9" r="2.3"/><circle cx="189.8" cy="178.2" r="2.3"/><circle cx="191.9" cy="137.8" r="2.3"/><circle cx="185.8" cy="257.6" r="2.3"/><circle cx="190.9" cy="165.5" r="2.3"/><circle cx="217.7" cy="248.7" r="2.3"/><circle cx="203.0" cy="262.8" r="2.3"/><circle cx="191.0" cy="124.9" r="2.3"/><circle cx="257.8" cy="139.3" r="2.3"/><circle cx="169.2" cy="273.7" r="2.3"/><circle cx="186.2" cy="283.3" r="2.3"/><circle cx="161.2" cy="243.8" r="2.3"/><circle cx="261.7" cy="148.3" r="2.3"/><circle cx="160.5" cy="237.1" r="2.3"/><circle cx="262.2" cy="196.0" r="2.3"/><circle cx="190.0" cy="135.0" r="2.3"/><circle cx="177.6" cy="284.8" r="2.3"/><circle cx="181.9" cy="146.5" r="2.3"/><circle cx="158.8" cy="209.4" r="2.3"/><circle cx="211.0" cy="216.9" r="2.3"/><circle cx="238.8" cy="209.4" r="2.3"/><circle cx="182.2" cy="252.2" r="2.3"/></g>
<g fill="#44c010"><circle cx="492.4" cy="349.1" r="2.3"/><circle cx="526.9" cy="401.1" r="2.3"/><circle cx="565.8" cy="400.7" r="2.3"/><circle cx="575.6" cy="377.1" r="2.3"/><circle cx="512.4" cy="372.3" r="2.3"/><circle cx="505.7" cy="321.2" r="2.3"/><circle cx="539.2" cy="395.0" r="2.3"/><circle cx="548.6" cy="327.0" r="2.3"/><circle cx="511.8" cy="345.4" r="2.3"/><circle cx="516.2" cy="392.6" r="2.3"/><circle cx="570.1" cy="344.6" r="2.3"/><circle cx="538.0" cy="391.5" r="2.3"/><circle cx="548.7" cy="370.4" r="2.3"/><circle cx="529.8" cy="376.9" r="2.3"/><circle cx="564.3" cy="354.1" r="2.3"/><circle cx="497.1" cy="389.7" r="2.3"/><circle cx="534.7" cy="410.3" r="2.3"/><circle cx="530.3" cy="381.4" r="2.3"/><circle cx="553.0" cy="350.3" r="2.3"/><circle cx="519.6" cy="332.4" r="2.3"/><circle cx="518.1" cy="399.2" r="2.3"/><circle cx="539.8" cy="382.4" r="2.3"/><circle cx="498.7" cy="321.9" r="2.3"/><circle cx="530.9" cy="424.3" r="2.3"/><circle cx="550.1" cy="367.5" r="2.3"/><circle cx="494.6" cy="350.1" r="2.3"/><circle cx="492.1" cy="365.3" r="2.3"/><circle cx="527.2" cy="419.8" r="2.3"/><circle cx="498.9" cy="351.9" r="2.3"/><circle cx="573.3" cy="356.2" r="2.3"/><circle cx="528.6" cy="436.8" r="2.3"/><circle cx="545.0" cy="363.8" r="2.3"/><circle cx="530.5" cy="396.0" r="2.3"/><circle cx="545.4" cy="374.1" r="2.3"/><circle cx="498.0" cy="361.3" r="2.3"/><circle cx="522.9" cy="432.2" r="2.3"/><circle cx="540.6" cy="334.5" r="2.3"/><circle cx="563.4" cy="337.9" r="2.3"/><circle cx="549.4" cy="365.4" r="2.3"/><circle cx="494.8" cy="360.0" r="2.3"/><circle cx="540.2" cy="400.8" r="2.3"/><circle cx="556.9" cy="397.1" r="2.3"/><circle cx="530.3" cy="340.8" r="2.3"/><circle cx="535.7" cy="336.5" r="2.3"/><circle cx="530.1" cy="317.6" r="2.3"/><circle cx="530.7" cy="408.2" r="2.3"/><circle cx="548.4" cy="407.6" r="2.3"/><circle cx="510.3" cy="391.0" r="2.3"/><circle cx="493.4" cy="366.2" r="2.3"/><circle cx="534.0" cy="369.8" r="2.3"/><circle cx="524.0" cy="418.0" r="2.3"/><circle cx="512.8" cy="422.2" r="2.3"/><circle cx="508.3" cy="411.7" r="2.3"/><circle cx="545.8" cy="326.6" r="2.3"/><circle cx="531.8" cy="317.1" r="2.3"/><circle cx="506.8" cy="356.2" r="2.3"/><circle cx="548.8" cy="323.8" r="2.3"/><circle cx="544.6" cy="317.2" r="2.3"/><circle cx="565.7" cy="365.4" r="2.3"/><circle cx="506.2" cy="418.1" r="2.3"/><circle cx="567.8" cy="360.8" r="2.3"/><circle cx="541.9" cy="363.4" r="2.3"/><circle cx="565.3" cy="403.4" r="2.3"/><circle cx="494.7" cy="381.9" r="2.3"/><circle cx="507.8" cy="360.0" r="2.3"/><circle cx="497.5" cy="361.1" r="2.3"/><circle cx="546.6" cy="330.4" r="2.3"/><circle cx="551.4" cy="393.5" r="2.3"/><circle cx="562.9" cy="377.2" r="2.3"/><circle cx="496.1" cy="327.2" r="2.3"/><circle cx="568.9" cy="371.4" r="2.3"/><circle cx="568.8" cy="339.6" r="2.3"/><circle cx="548.9" cy="405.7" r="2.3"/><circle cx="552.9" cy="374.7" r="2.3"/><circle cx="508.6" cy="348.3" r="2.3"/><circle cx="527.3" cy="348.4" r="2.3"/><circle cx="496.4" cy="326.0" r="2.3"/><circle cx="529.6" cy="388.2" r="2.3"/><circle cx="549.9" cy="321.9" r="2.3"/><circle cx="525.7" cy="428.9" r="2.3"/><circle cx="536.1" cy="323.9" r="2.3"/><circle cx="529.9" cy="364.0" r="2.3"/><circle cx="532.7" cy="322.6" r="2.3"/><circle cx="520.4" cy="360.2" r="2.3"/><circle cx="540.6" cy="333.8" r="2.3"/><circle cx="490.9" cy="335.2" r="2.3"/><circle cx="542.1" cy="406.6" r="2.3"/><circle cx="512.3" cy="319.3" r="2.3"/><circle cx="575.5" cy="364.4" r="2.3"/><circle cx="532.3" cy="360.2" r="2.3"/><circle cx="522.3" cy="407.5" r="2.3"/><circle cx="512.5" cy="335.3" r="2.3"/><circle cx="562.5" cy="399.4" r="2.3"/><circle cx="528.5" cy="399.3" r="2.3"/><circle cx="554.9" cy="367.7" r="2.3"/><circle cx="561.4" cy="363.1" r="2.3"/><circle cx="514.6" cy="404.9" r="2.3"/><circle cx="575.1" cy="353.1" r="2.3"/><circle cx="563.9" cy="394.6" r="2.3"/><circle cx="541.2" cy="382.6" r="2.3"/><circle cx="536.1" cy="322.8" r="2.3"/><circle cx="500.8" cy="395.2" r="2.3"/><circle cx="556.4" cy="334.9" r="2.3"/><circle cx="546.6" cy="414.0" r="2.3"/><circle cx="525.2" cy="349.9" r="2.3"/><circle cx="510.7" cy="418.1" r="2.3"/><circle cx="536.9" cy="356.6" r="2.3"/><circle cx="542.7" cy="342.0" r="2.3"/><circle cx="507.3" cy="370.5" r="2.3"/><circle cx="558.2" cy="376.9" r="2.3"/><circle cx="516.2" cy="345.7" r="2.3"/><circle cx="520.9" cy="328.0" r="2.3"/><circle cx="526.3" cy="402.8" r="2.3"/><circle cx="514.7" cy="373.0" r="2.3"/><circle cx="504.3" cy="335.3" r="2.3"/><circle cx="510.0" cy="321.3" r="2.3"/><circle cx="551.0" cy="354.5" r="2.3"/><circle cx="506.1" cy="328.0" r="2.3"/><circle cx="533.5" cy="355.1" r="2.3"/><circle cx="567.7" cy="353.2" r="2.3"/><circle cx="546.7" cy="364.0" r="2.3"/><circle cx="519.4" cy="396.4" r="2.3"/><circle cx="521.3" cy="410.8" r="2.3"/><circle cx="518.2" cy="400.3" r="2.3"/><circle cx="538.3" cy="402.5" r="2.3"/><circle cx="532.5" cy="339.4" r="2.3"/><circle cx="496.4" cy="351.1" r="2.3"/><circle cx="488.4" cy="338.3" r="2.3"/><circle cx="563.3" cy="373.5" r="2.3"/><circle cx="554.4" cy="400.4" r="2.3"/><circle cx="565.6" cy="388.8" r="2.3"/><circle cx="554.5" cy="341.2" r="2.3"/><circle cx="569.3" cy="395.3" r="2.3"/><circle cx="501.0" cy="362.0" r="2.3"/><circle cx="570.3" cy="393.3" r="2.3"/><circle cx="536.0" cy="407.7" r="2.3"/><circle cx="527.4" cy="432.0" r="2.3"/><circle cx="567.3" cy="341.3" r="2.3"/><circle cx="571.2" cy="383.6" r="2.3"/><circle cx="514.5" cy="340.2" r="2.3"/><circle cx="547.5" cy="392.3" r="2.3"/><circle cx="527.5" cy="382.0" r="2.3"/><circle cx="566.6" cy="399.0" r="2.3"/><circle cx="551.0" cy="323.1" r="2.3"/><circle cx="566.3" cy="383.1" r="2.3"/><circle cx="503.7" cy="322.4" r="2.3"/><circle cx="566.9" cy="385.8" r="2.3"/><circle cx="522.7" cy="336.5" r="2.3"/><circle cx="542.6" cy="376.0" r="2.3"/><circle cx="499.4" cy="356.7" r="2.3"/><circle cx="535.1" cy="408.6" r="2.3"/><circle cx="493.3" cy="338.4" r="2.3"/><circle cx="573.8" cy="363.1" r="2.3"/><circle cx="537.2" cy="318.2" r="2.3"/><circle cx="534.3" cy="327.3" r="2.3"/><circle cx="537.5" cy="411.4" r="2.3"/><circle cx="491.4" cy="347.8" r="2.3"/><circle cx="534.1" cy="318.8" r="2.3"/><circle cx="510.2" cy="331.8" r="2.3"/><circle cx="522.2" cy="431.3" r="2.3"/><circle cx="510.5" cy="386.4" r="2.3"/><circle cx="577.3" cy="361.6" r="2.3"/><circle cx="556.2" cy="326.9" r="2.3"/><circle cx="542.3" cy="382.6" r="2.3"/><circle cx="508.7" cy="346.8" r="2.3"/><circle cx="563.1" cy="372.7" r="2.3"/><circle cx="563.0" cy="402.0" r="2.3"/><circle cx="541.9" cy="330.0" r="2.3"/><circle cx="549.0" cy="405.0" r="2.3"/><circle cx="497.9" cy="383.5" r="2.3"/><circle cx="534.2" cy="386.1" r="2.3"/><circle cx="496.8" cy="358.2" r="2.3"/><circle cx="558.9" cy="335.2" r="2.3"/><circle cx="559.5" cy="407.1" r="2.3"/><circle cx="541.2" cy="371.8" r="2.3"/><circle cx="570.9" cy="357.6" r="2.3"/><circle cx="528.1" cy="390.2" r="2.3"/><circle cx="532.4" cy="381.6" r="2.3"/><circle cx="540.4" cy="386.2" r="2.3"/><circle cx="573.1" cy="372.5" r="2.3"/><circle cx="507.5" cy="402.8" r="2.3"/><circle cx="575.7" cy="379.5" r="2.3"/><circle cx="568.6" cy="336.0" r="2.3"/><circle cx="531.3" cy="432.4" r="2.3"/><circle cx="528.6" cy="323.1" r="2.3"/><circle cx="540.3" cy="336.4" r="2.3"/><circle cx="560.5" cy="355.8" r="2.3"/><circle cx="518.1" cy="339.7" r="2.3"/><circle cx="532.6" cy="378.6" r="2.3"/><circle cx="546.2" cy="328.7" r="2.3"/><circle cx="491.1" cy="343.2" r="2.3"/><circle cx="515.8" cy="371.7" r="2.3"/><circle cx="515.6" cy="420.2" r="2.3"/><circle cx="501.5" cy="337.4" r="2.3"/><circle cx="507.2" cy="320.3" r="2.3"/><circle cx="545.7" cy="411.2" r="2.3"/><circle cx="535.5" cy="397.2" r="2.3"/><circle cx="502.0" cy="326.9" r="2.3"/><circle cx="509.0" cy="385.3" r="2.3"/><circle cx="566.7" cy="345.6" r="2.3"/><circle cx="502.9" cy="332.8" r="2.3"/><circle cx="503.7" cy="323.9" r="2.3"/><circle cx="504.3" cy="403.2" r="2.3"/><circle cx="512.9" cy="415.4" r="2.3"/><circle cx="560.5" cy="336.0" r="2.3"/><circle cx="558.7" cy="371.3" r="2.3"/><circle cx="519.8" cy="383.8" r="2.3"/><circle cx="520.0" cy="348.5" r="2.3"/><circle cx="478.5" cy="316.0" r="2.3"/><circle cx="487.7" cy="317.7" r="2.3"/><circle cx="489.0" cy="412.0" r="2.3"/><circle cx="532.6" cy="417.5" r="2.3"/><circle cx="543.0" cy="417.0" r="2.3"/></g>
<g fill="none" stroke="#cc0004" stroke-width="1.4"><circle cx="259.0" cy="205.2" r="1.85"/><circle cx="238.8" cy="186.3" r="1.85"/><circle cx="235.5" cy="151.7" r="1.85"/><circle cx="225.1" cy="198.1" r="1.85"/><circle cx="185.1" cy="280.2" r="1.85"/><circle cx="253.7" cy="142.8" r="1.85"/><circle cx="258.8" cy="207.1" r="1.85"/><circle cx="178.5" cy="194.0" r="1.85"/><circle cx="261.7" cy="202.6" r="1.85"/><circle cx="174.0" cy="281.3" r="1.85"/><circle cx="151.6" cy="235.1" r="1.85"/><circle cx="243.0" cy="154.9" r="1.85"/><circle cx="240.4" cy="240.1" r="1.85"/><circle cx="183.0" cy="162.9" r="1.85"/><circle cx="179.8" cy="287.2" r="1.85"/><circle cx="173.7" cy="172.9" r="1.85"/><circle cx="228.7" cy="225.7" r="1.85"/><circle cx="232.3" cy="136.5" r="1.85"/><circle cx="202.7" cy="116.1" r="1.85"/><circle cx="192.4" cy="198.7" r="1.85"/><circle cx="254.4" cy="160.1" r="1.85"/><circle cx="232.0" cy="195.1" r="1.85"/><circle cx="221.5" cy="188.2" r="1.85"/><circle cx="240.1" cy="196.3" r="1.85"/><circle cx="253.4" cy="196.2" r="1.85"/><circle cx="241.7" cy="186.5" r="1.85"/><circle cx="266.0" cy="175.5" r="1.85"/><circle cx="239.3" cy="160.5" r="1.85"/><circle cx="168.1" cy="280.0" r="1.85"/><circle cx="238.7" cy="249.6" r="1.85"/><circle cx="187.6" cy="251.9" r="1.85"/><circle cx="247.1" cy="182.6" r="1.85"/><circle cx="188.3" cy="211.3" r="1.85"/><circle cx="190.3" cy="233.3" r="1.85"/><circle cx="174.7" cy="145.6" r="1.85"/><circle cx="250.9" cy="151.7" r="1.85"/><circle cx="228.1" cy="144.4" r="1.85"/><circle cx="252.5" cy="154.4" r="1.85"/><circle cx="172.1" cy="244.5" r="1.85"/><circle cx="211.4" cy="219.7" r="1.85"/><circle cx="230.6" cy="145.3" r="1.85"/><circle cx="226.9" cy="240.3" r="1.85"/><circle cx="180.0" cy="160.8" r="1.85"/><circle cx="157.6" cy="267.8" r="1.85"/><circle cx="230.0" cy="204.6" r="1.85"/><circle cx="255.1" cy="154.0" r="1.85"/><circle cx="243.0" cy="226.5" r="1.85"/><circle cx="192.2" cy="230.0" r="1.85"/><circle cx="225.6" cy="152.2" r="1.85"/><circle cx="161.1" cy="149.9" r="1.85"/><circle cx="175.0" cy="243.8" r="1.85"/><circle cx="227.8" cy="125.1" r="1.85"/><circle cx="227.2" cy="227.9" r="1.85"/><circle cx="233.2" cy="203.3" r="1.85"/><circle cx="266.4" cy="180.9" r="1.85"/><circle cx="239.2" cy="216.4" r="1.85"/><circle cx="167.2" cy="245.6" r="1.85"/><circle cx="253.1" cy="182.7" r="1.85"/><circle cx="179.3" cy="148.0" r="1.85"/><circle cx="168.6" cy="230.2" r="1.85"/><circle cx="192.0" cy="199.8" r="1.85"/><circle cx="194.0" cy="216.2" r="1.85"/><circle cx="222.1" cy="164.2" r="1.85"/><circle cx="167.2" cy="268.4" r="1.85"/><circle cx="213.1" cy="175.1" r="1.85"/><circle cx="220.6" cy="142.7" r="1.85"/><circle cx="151.5" cy="210.3" r="1.85"/><circle cx="265.4" cy="165.5" r="1.85"/><circle cx="222.6" cy="198.7" r="1.85"/><circle cx="207.2" cy="206.4" r="1.85"/><circle cx="153.4" cy="237.1" r="1.85"/><circle cx="239.0" cy="194.3" r="1.85"/><circle cx="203.9" cy="137.2" r="1.85"/><circle cx="151.6" cy="236.5" r="1.85"/><circle cx="199.2" cy="223.7" r="1.85"/><circle cx="260.4" cy="174.3" r="1.85"/><circle cx="241.0" cy="133.0" r="1.85"/><circle cx="242.3" cy="150.8" r="1.85"/><circle cx="258.1" cy="151.1" r="1.85"/><circle cx="234.4" cy="197.8" r="1.85"/><circle cx="246.8" cy="203.8" r="1.85"/><circle cx="189.1" cy="180.5" r="1.85"/><circle cx="258.7" cy="168.4" r="1.85"/><circle cx="223.3" cy="259.9" r="1.85"/><circle cx="218.3" cy="171.4" r="1.85"/><circle cx="154.8" cy="215.0" r="1.85"/><circle cx="155.1" cy="188.1" r="1.85"/><circle cx="238.2" cy="231.2" r="1.85"/><circle cx="240.7" cy="235.5" r="1.85"/><circle cx="263.4" cy="169.6" r="1.85"/><circle cx="247.9" cy="182.5" r="1.85"/><circle cx="260.7" cy="151.2" r="1.85"/><circle cx="257.2" cy="199.7" r="1.85"/><circle cx="233.5" cy="255.0" r="1.85"/><circle cx="184.3" cy="216.7" r="1.85"/><circle cx="191.2" cy="145.3" r="1.85"/><circle cx="260.8" cy="144.3" r="1.85"/><circle cx="168.6" cy="260.3" r="1.85"/><circle cx="251.7" cy="206.3" r="1.85"/><circle cx="180.6" cy="167.5" r="1.85"/><circle cx="147.2" cy="201.0" r="1.85"/><circle cx="253.4" cy="178.9" r="1.85"/><circle cx="209.2" cy="117.4" r="1.85"/><circle cx="241.7" cy="214.8" r="1.85"/><circle cx="237.5" cy="225.8" r="1.85"/><circle cx="164.1" cy="216.0" r="1.85"/><circle cx="181.9" cy="274.7" r="1.85"/><circle cx="240.7" cy="163.3" r="1.85"/><circle cx="232.2" cy="246.9" r="1.85"/><circle cx="147.7" cy="200.8" r="1.85"/><circle cx="157.2" cy="174.0" r="1.85"/><circle cx="223.9" cy="224.0" r="1.85"/><circle cx="246.1" cy="216.7" r="1.85"/><circle cx="151.2" cy="246.7" r="1.85"/><circle cx="228.6" cy="213.3" r="1.85"/><circle cx="235.0" cy="225.3" r="1.85"/><circle cx="220.0" cy="179.5" r="1.85"/><circle cx="255.6" cy="185.6" r="1.85"/><circle cx="155.7" cy="168.9" r="1.85"/><circle cx="255.4" cy="166.4" r="1.85"/><circle cx="151.7" cy="176.9" r="1.85"/><circle cx="175.1" cy="263.8" r="1.85"/><circle cx="216.2" cy="126.8" r="1.85"/><circle cx="233.1" cy="209.5" r="1.85"/><circle cx="205.5" cy="194.7" r="1.85"/><circle cx="262.9" cy="167.2" r="1.85"/><circle cx="171.1" cy="139.9" r="1.85"/><circle cx="262.4" cy="170.4" r="1.85"/><circle cx="210.1" cy="131.8" r="1.85"/><circle cx="149.8" cy="241.5" r="1.85"/><circle cx="234.4" cy="157.8" r="1.85"/><circle cx="253.5" cy="177.7" r="1.85"/><circle cx="220.5" cy="233.4" r="1.85"/><circle cx="230.3" cy="153.9" r="1.85"/><circle cx="154.7" cy="240.0" r="1.85"/><circle cx="243.9" cy="223.9" r="1.85"/><circle cx="157.8" cy="230.6" r="1.85"/><circle cx="160.6" cy="168.6" r="1.85"/><circle cx="170.5" cy="176.2" r="1.85"/><circle cx="177.5" cy="225.9" r="1.85"/><circle cx="151.7" cy="197.5" r="1.85"/><circle cx="250.2" cy="196.7" r="1.85"/><circle cx="214.7" cy="187.7" r="1.85"/><circle cx="200.8" cy="124.5" r="1.85"/><circle cx="153.4" cy="190.8" r="1.85"/><circle cx="251.9" cy="214.3" r="1.85"/><circle cx="224.3" cy="228.7" r="1.85"/><circle cx="169.3" cy="150.5" r="1.85"/><circle cx="252.4" cy="141.1" r="1.85"/><circle cx="186.7" cy="287.6" r="1.85"/><circle cx="219.8" cy="157.3" r="1.85"/><circle cx="212.6" cy="156.2" r="1.85"/><circle cx="178.3" cy="150.2" r="1.85"/><circle cx="153.5" cy="208.8" r="1.85"/><circle cx="235.3" cy="244.6" r="1.85"/><circle cx="221.2" cy="183.4" r="1.85"/><circle cx="165.7" cy="243.3" r="1.85"/><circle cx="257.1" cy="195.1" r="1.85"/><circle cx="198.6" cy="272.2" r="1.85"/><circle cx="242.5" cy="222.7" r="1.85"/><circle cx="149.3" cy="231.6" r="1.85"/><circle cx="173.1" cy="291.8" r="1.85"/><circle cx="245.8" cy="163.4" r="1.85"/><circle cx="227.7" cy="156.9" r="1.85"/><circle cx="244.2" cy="163.0" r="1.85"/><circle cx="200.4" cy="206.3" r="1.85"/><circle cx="154.1" cy="231.1" r="1.85"/><circle cx="239.4" cy="194.7" r="1.85"/><circle cx="179.0" cy="285.6" r="1.85"/><circle cx="192.4" cy="254.4" r="1.85"/><circle cx="203.7" cy="206.7" r="1.85"/><circle cx="235.0" cy="159.4" r="1.85"/><circle cx="203.5" cy="248.2" r="1.85"/><circle cx="222.2" cy="134.6" r="1.85"/><circle cx="235.2" cy="234.3" r="1.85"/><circle cx="239.3" cy="125.4" r="1.85"/><circle cx="240.8" cy="253.4" r="1.85"/><circle cx="209.1" cy="146.8" r="1.85"/><circle cx="229.8" cy="214.1" r="1.85"/><circle cx="156.3" cy="234.0" r="1.85"/><circle cx="242.4" cy="164.1" r="1.85"/><circle cx="180.8" cy="284.8" r="1.85"/><circle cx="165.8" cy="205.3" r="1.85"/><circle cx="179.7" cy="235.0" r="1.85"/><circle cx="261.5" cy="198.5" r="1.85"/><circle cx="162.2" cy="159.3" r="1.85"/><circle cx="193.8" cy="278.1" r="1.85"/><circle cx="165.8" cy="246.9" r="1.85"/><circle cx="155.2" cy="258.6" r="1.85"/><circle cx="259.8" cy="188.6" r="1.85"/><circle cx="152.1" cy="179.7" r="1.85"/><circle cx="237.8" cy="126.6" r="1.85"/><circle cx="263.2" cy="176.8" r="1.85"/><circle cx="165.7" cy="168.6" r="1.85"/><circle cx="179.4" cy="133.9" r="1.85"/><circle cx="209.1" cy="251.7" r="1.85"/><circle cx="155.3" cy="246.3" r="1.85"/><circle cx="241.6" cy="205.6" r="1.85"/><circle cx="235.1" cy="223.0" r="1.85"/><circle cx="210.9" cy="237.7" r="1.85"/><circle cx="232.9" cy="143.4" r="1.85"/><circle cx="251.1" cy="205.8" r="1.85"/><circle cx="195.0" cy="145.8" r="1.85"/><circle cx="242.8" cy="207.4" r="1.85"/><circle cx="166.0" cy="287.2" r="1.85"/><circle cx="207.0" cy="197.2" r="1.85"/><circle cx="176.9" cy="147.1" r="1.85"/><circle cx="175.0" cy="287.2" r="1.85"/><circle cx="236.0" cy="169.4" r="1.85"/><circle cx="158.1" cy="249.2" r="1.85"/><circle cx="243.2" cy="226.8" r="1.85"/><circle cx="183.5" cy="288.1" r="1.85"/><circle cx="235.3" cy="214.0" r="1.85"/><circle cx="246.5" cy="150.4" r="1.85"/><circle cx="199.9" cy="122.2" r="1.85"/><circle cx="181.6" cy="153.8" r="1.85"/><circle cx="155.3" cy="232.1" r="1.85"/><circle cx="252.5" cy="167.5" r="1.85"/><circle cx="266.0" cy="182.6" r="1.85"/><circle cx="185.8" cy="237.0" r="1.85"/><circle cx="258.0" cy="210.1" r="1.85"/><circle cx="222.8" cy="216.6" r="1.85"/><circle cx="258.9" cy="153.2" r="1.85"/><circle cx="218.6" cy="262.8" r="1.85"/><circle cx="145.3" cy="207.1" r="1.85"/><circle cx="171.1" cy="188.1" r="1.85"/><circle cx="223.5" cy="139.2" r="1.85"/><circle cx="219.0" cy="156.8" r="1.85"/><circle cx="172.7" cy="156.6" r="1.85"/><circle cx="150.7" cy="219.4" r="1.85"/><circle cx="254.2" cy="204.4" r="1.85"/><circle cx="165.1" cy="189.7" r="1.85"/><circle cx="233.3" cy="159.1" r="1.85"/><circle cx="252.5" cy="192.5" r="1.85"/><circle cx="264.2" cy="166.3" r="1.85"/><circle cx="237.6" cy="166.8" r="1.85"/><circle cx="234.2" cy="164.3" r="1.85"/><circle cx="183.8" cy="140.2" r="1.85"/><circle cx="229.2" cy="262.1" r="1.85"/><circle cx="240.3" cy="247.7" r="1.85"/><circle cx="242.1" cy="216.2" r="1.85"/><circle cx="216.7" cy="245.6" r="1.85"/><circle cx="154.8" cy="170.5" r="1.85"/><circle cx="185.2" cy="144.1" r="1.85"/><circle cx="158.2" cy="226.6" r="1.85"/><circle cx="259.4" cy="174.3" r="1.85"/><circle cx="194.7" cy="245.6" r="1.85"/><circle cx="185.6" cy="191.4" r="1.85"/><circle cx="169.8" cy="171.3" r="1.85"/><circle cx="249.5" cy="133.6" r="1.85"/><circle cx="232.8" cy="247.8" r="1.85"/><circle cx="222.9" cy="154.6" r="1.85"/><circle cx="173.8" cy="293.2" r="1.85"/><circle cx="236.1" cy="234.1" r="1.85"/><circle cx="260.6" cy="167.5" r="1.85"/><circle cx="192.8" cy="269.0" r="1.85"/><circle cx="187.2" cy="171.7" r="1.85"/><circle cx="240.1" cy="166.7" r="1.85"/><circle cx="196.9" cy="218.8" r="1.85"/><circle cx="175.5" cy="250.3" r="1.85"/><circle cx="241.1" cy="243.5" r="1.85"/><circle cx="198.3" cy="261.7" r="1.85"/><circle cx="233.8" cy="242.4" r="1.85"/><circle cx="254.0" cy="148.6" r="1.85"/><circle cx="235.2" cy="247.9" r="1.85"/><circle cx="194.4" cy="202.5" r="1.85"/><circle cx="256.2" cy="181.2" r="1.85"/><circle cx="153.7" cy="211.3" r="1.85"/><circle cx="197.2" cy="141.8" r="1.85"/><circle cx="242.8" cy="170.7" r="1.85"/><circle cx="249.5" cy="162.1" r="1.85"/><circle cx="223.6" cy="228.3" r="1.85"/><circle cx="154.8" cy="173.3" r="1.85"/><circle cx="189.7" cy="280.2" r="1.85"/><circle cx="243.4" cy="146.5" r="1.85"/><circle cx="218.4" cy="233.0" r="1.85"/><circle cx="221.4" cy="184.3" r="1.85"/><circle cx="169.3" cy="206.4" r="1.85"/><circle cx="208.5" cy="118.9" r="1.85"/><circle cx="260.6" cy="192.0" r="1.85"/><circle cx="157.7" cy="165.5" r="1.85"/><circle cx="252.6" cy="210.0" r="1.85"/><circle cx="245.8" cy="208.2" r="1.85"/><circle cx="225.7" cy="227.0" r="1.85"/><circle cx="257.0" cy="152.4" r="1.85"/><circle cx="262.2" cy="171.8" r="1.85"/><circle cx="205.2" cy="259.7" r="1.85"/><circle cx="250.8" cy="156.9" r="1.85"/><circle cx="152.3" cy="199.0" r="1.85"/><circle cx="228.6" cy="148.4" r="1.85"/><circle cx="177.4" cy="287.1" r="1.85"/><circle cx="263.7" cy="202.7" r="1.85"/><circle cx="250.9" cy="205.1" r="1.85"/><circle cx="210.1" cy="143.3" r="1.85"/><circle cx="228.5" cy="207.4" r="1.85"/><circle cx="236.3" cy="226.1" r="1.85"/><circle cx="157.6" cy="246.7" r="1.85"/><circle cx="243.5" cy="212.5" r="1.85"/><circle cx="165.8" cy="278.0" r="1.85"/><circle cx="178.4" cy="231.6" r="1.85"/><circle cx="258.0" cy="154.0" r="1.85"/><circle cx="220.6" cy="176.4" r="1.85"/><circle cx="202.3" cy="230.1" r="1.85"/><circle cx="172.8" cy="288.6" r="1.85"/><circle cx="188.8" cy="175.8" r="1.85"/><circle cx="258.1" cy="193.9" r="1.85"/><circle cx="174.2" cy="284.2" r="1.85"/><circle cx="184.1" cy="287.0" r="1.85"/><circle cx="173.0" cy="293.5" r="1.85"/><circle cx="170.1" cy="285.6" r="1.85"/></g>
<g fill="none" stroke="#48c818" stroke-width="1.4"><circle cx="485.8" cy="94.8" r="1.85"/><circle cx="474.8" cy="94.9" r="1.85"/><circle cx="482.2" cy="101.0" r="1.85"/><circle cx="486.2" cy="91.1" r="1.85"/><circle cx="496.5" cy="94.3" r="1.85"/><circle cx="480.7" cy="103.2" r="1.85"/><circle cx="484.6" cy="92.6" r="1.85"/><circle cx="486.3" cy="101.5" r="1.85"/><circle cx="478.9" cy="100.4" r="1.85"/><circle cx="488.0" cy="95.6" r="1.85"/><circle cx="477.2" cy="96.7" r="1.85"/><circle cx="493.9" cy="99.7" r="1.85"/><circle cx="489.8" cy="99.3" r="1.85"/><circle cx="475.4" cy="93.4" r="1.85"/><circle cx="480.6" cy="99.4" r="1.85"/><circle cx="480.5" cy="102.2" r="1.85"/><circle cx="482.8" cy="98.3" r="1.85"/><circle cx="491.1" cy="98.6" r="1.85"/><circle cx="494.8" cy="92.4" r="1.85"/><circle cx="495.0" cy="99.3" r="1.85"/><circle cx="490.9" cy="97.4" r="1.85"/><circle cx="473.4" cy="97.0" r="1.85"/><circle cx="491.8" cy="92.7" r="1.85"/><circle cx="484.4" cy="93.2" r="1.85"/><circle cx="484.0" cy="94.7" r="1.85"/><circle cx="485.8" cy="96.7" r="1.85"/><circle cx="476.4" cy="93.1" r="1.85"/><circle cx="474.8" cy="93.4" r="1.85"/><circle cx="487.5" cy="98.2" r="1.85"/><circle cx="495.7" cy="93.5" r="1.85"/><circle cx="486.6" cy="91.1" r="1.85"/><circle cx="485.4" cy="101.7" r="1.85"/><circle cx="479.4" cy="93.2" r="1.85"/><circle cx="485.9" cy="90.4" r="1.85"/><circle cx="487.9" cy="93.6" r="1.85"/><circle cx="509.2" cy="93.3" r="1.85"/><circle cx="514.7" cy="90.3" r="1.85"/><circle cx="518.5" cy="92.2" r="1.85"/><circle cx="516.5" cy="95.2" r="1.85"/><circle cx="512.5" cy="91.5" r="1.85"/><circle cx="520.0" cy="93.3" r="1.85"/><circle cx="520.4" cy="94.3" r="1.85"/><circle cx="516.0" cy="94.8" r="1.85"/><circle cx="512.8" cy="95.3" r="1.85"/><circle cx="511.6" cy="95.8" r="1.85"/><circle cx="516.8" cy="95.6" r="1.85"/><circle cx="516.2" cy="90.9" r="1.85"/><circle cx="497.4" cy="109.1" r="1.85"/><circle cx="499.4" cy="111.8" r="1.85"/><circle cx="506.6" cy="100.0" r="1.85"/><circle cx="507.0" cy="104.9" r="1.85"/><circle cx="496.4" cy="104.1" r="1.85"/><circle cx="515.5" cy="106.8" r="1.85"/><circle cx="510.6" cy="106.3" r="1.85"/><circle cx="507.1" cy="111.3" r="1.85"/><circle cx="509.7" cy="106.0" r="1.85"/><circle cx="510.5" cy="113.8" r="1.85"/><circle cx="497.2" cy="108.5" r="1.85"/><circle cx="497.9" cy="107.3" r="1.85"/><circle cx="509.6" cy="102.6" r="1.85"/><circle cx="497.8" cy="105.9" r="1.85"/><circle cx="507.3" cy="112.6" r="1.85"/><circle cx="511.8" cy="102.8" r="1.85"/><circle cx="496.8" cy="108.5" r="1.85"/><circle cx="497.0" cy="103.6" r="1.85"/><circle cx="512.3" cy="102.1" r="1.85"/><circle cx="510.2" cy="112.1" r="1.85"/><circle cx="480.1" cy="111.7" r="1.85"/><circle cx="482.3" cy="115.8" r="1.85"/><circle cx="478.4" cy="122.9" r="1.85"/><circle cx="480.7" cy="124.6" r="1.85"/><circle cx="479.7" cy="112.8" r="1.85"/><circle cx="481.7" cy="122.3" r="1.85"/><circle cx="492.1" cy="122.3" r="1.85"/><circle cx="488.2" cy="122.6" r="1.85"/><circle cx="488.7" cy="119.0" r="1.85"/><circle cx="486.9" cy="119.3" r="1.85"/><circle cx="489.8" cy="119.4" r="1.85"/><circle cx="489.3" cy="115.6" r="1.85"/><circle cx="491.6" cy="115.2" r="1.85"/><circle cx="487.0" cy="121.0" r="1.85"/><circle cx="589.3" cy="90.9" r="1.85"/><circle cx="573.0" cy="99.8" r="1.85"/><circle cx="577.5" cy="109.2" r="1.85"/><circle cx="588.5" cy="108.1" r="1.85"/><circle cx="570.1" cy="101.1" r="1.85"/><circle cx="584.0" cy="107.0" r="1.85"/><circle cx="575.5" cy="98.9" r="1.85"/><circle cx="586.7" cy="109.7" r="1.85"/><circle cx="578.3" cy="87.9" r="1.85"/><circle cx="570.8" cy="91.4" r="1.85"/><circle cx="591.3" cy="108.0" r="1.85"/><circle cx="597.1" cy="102.4" r="1.85"/><circle cx="581.7" cy="100.4" r="1.85"/><circle cx="580.8" cy="97.3" r="1.85"/><circle cx="576.9" cy="99.0" r="1.85"/><circle cx="569.2" cy="101.7" r="1.85"/><circle cx="584.5" cy="92.9" r="1.85"/><circle cx="600.3" cy="97.2" r="1.85"/><circle cx="584.4" cy="93.7" r="1.85"/><circle cx="577.1" cy="89.3" r="1.85"/><circle cx="587.9" cy="94.9" r="1.85"/><circle cx="575.7" cy="107.1" r="1.85"/><circle cx="572.3" cy="93.1" r="1.85"/><circle cx="564.8" cy="104.6" r="1.85"/><circle cx="567.1" cy="94.5" r="1.85"/><circle cx="564.7" cy="96.8" r="1.85"/><circle cx="583.2" cy="110.5" r="1.85"/><circle cx="574.4" cy="96.4" r="1.85"/><circle cx="592.2" cy="103.7" r="1.85"/><circle cx="574.9" cy="96.1" r="1.85"/><circle cx="584.4" cy="88.3" r="1.85"/><circle cx="584.7" cy="88.2" r="1.85"/><circle cx="590.7" cy="94.9" r="1.85"/><circle cx="588.9" cy="103.7" r="1.85"/><circle cx="586.0" cy="93.7" r="1.85"/><circle cx="575.8" cy="97.7" r="1.85"/><circle cx="570.1" cy="91.0" r="1.85"/><circle cx="565.3" cy="102.7" r="1.85"/><circle cx="581.1" cy="96.4" r="1.85"/><circle cx="569.9" cy="92.8" r="1.85"/><circle cx="583.9" cy="93.2" r="1.85"/><circle cx="600.7" cy="99.6" r="1.85"/><circle cx="569.2" cy="100.0" r="1.85"/><circle cx="577.0" cy="100.3" r="1.85"/><circle cx="589.7" cy="105.3" r="1.85"/><circle cx="587.4" cy="95.6" r="1.85"/><circle cx="588.6" cy="96.7" r="1.85"/><circle cx="587.2" cy="94.1" r="1.85"/><circle cx="591.6" cy="90.1" r="1.85"/><circle cx="584.3" cy="96.4" r="1.85"/><circle cx="583.0" cy="97.0" r="1.85"/><circle cx="582.5" cy="95.2" r="1.85"/><circle cx="585.9" cy="97.4" r="1.85"/><circle cx="592.0" cy="91.5" r="1.85"/><circle cx="583.5" cy="89.9" r="1.85"/><circle cx="590.6" cy="93.0" r="1.85"/><circle cx="591.6" cy="96.3" r="1.85"/><circle cx="583.6" cy="95.3" r="1.85"/><circle cx="587.2" cy="94.4" r="1.85"/><circle cx="590.9" cy="89.5" r="1.85"/><circle cx="574.7" cy="86.9" r="1.85"/><circle cx="573.7" cy="86.2" r="1.85"/><circle cx="573.8" cy="86.2" r="1.85"/><circle cx="572.4" cy="87.6" r="1.85"/><circle cx="592.8" cy="107.5" r="1.85"/><circle cx="586.1" cy="108.4" r="1.85"/><circle cx="590.2" cy="110.9" r="1.85"/><circle cx="594.1" cy="113.3" r="1.85"/><circle cx="589.4" cy="108.2" r="1.85"/><circle cx="591.9" cy="110.5" r="1.85"/><circle cx="522.4" cy="107.3" r="1.85"/><circle cx="522.5" cy="106.5" r="1.85"/><circle cx="520.6" cy="108.2" r="1.85"/><circle cx="527.9" cy="100.4" r="1.85"/><circle cx="522.6" cy="99.3" r="1.85"/><circle cx="525.1" cy="102.3" r="1.85"/><circle cx="524.0" cy="102.0" r="1.85"/><circle cx="525.6" cy="98.3" r="1.85"/><circle cx="522.9" cy="97.4" r="1.85"/><circle cx="521.8" cy="117.6" r="1.85"/><circle cx="521.1" cy="106.5" r="1.85"/><circle cx="524.2" cy="116.1" r="1.85"/><circle cx="522.0" cy="101.3" r="1.85"/><circle cx="523.4" cy="117.3" r="1.85"/><circle cx="527.9" cy="100.1" r="1.85"/><circle cx="525.6" cy="110.4" r="1.85"/><circle cx="527.1" cy="108.8" r="1.85"/><circle cx="526.2" cy="113.8" r="1.85"/><circle cx="525.6" cy="115.9" r="1.85"/><circle cx="525.5" cy="108.6" r="1.85"/><circle cx="527.3" cy="114.9" r="1.85"/><circle cx="563.4" cy="109.1" r="1.85"/><circle cx="559.3" cy="108.1" r="1.85"/><circle cx="561.8" cy="112.3" r="1.85"/><circle cx="549.4" cy="119.9" r="1.85"/><circle cx="558.0" cy="107.5" r="1.85"/><circle cx="549.3" cy="102.2" r="1.85"/><circle cx="551.3" cy="118.7" r="1.85"/><circle cx="548.9" cy="116.5" r="1.85"/><circle cx="547.0" cy="118.8" r="1.85"/><circle cx="557.5" cy="110.5" r="1.85"/><circle cx="556.8" cy="121.1" r="1.85"/><circle cx="565.5" cy="103.3" r="1.85"/><circle cx="547.8" cy="119.0" r="1.85"/><circle cx="551.2" cy="109.8" r="1.85"/><circle cx="557.8" cy="122.7" r="1.85"/><circle cx="556.4" cy="106.9" r="1.85"/><circle cx="552.4" cy="124.7" r="1.85"/><circle cx="549.7" cy="108.9" r="1.85"/><circle cx="556.3" cy="111.7" r="1.85"/><circle cx="549.1" cy="122.0" r="1.85"/><circle cx="560.5" cy="113.6" r="1.85"/><circle cx="557.6" cy="101.3" r="1.85"/><circle cx="551.3" cy="124.2" r="1.85"/><circle cx="552.9" cy="117.4" r="1.85"/><circle cx="566.8" cy="110.7" r="1.85"/><circle cx="548.2" cy="111.3" r="1.85"/><circle cx="551.1" cy="105.5" r="1.85"/><circle cx="550.0" cy="118.4" r="1.85"/><circle cx="551.5" cy="118.3" r="1.85"/><circle cx="570.4" cy="112.4" r="1.85"/><circle cx="571.0" cy="146.8" r="1.85"/><circle cx="565.6" cy="128.5" r="1.85"/><circle cx="567.0" cy="137.1" r="1.85"/><circle cx="568.7" cy="149.0" r="1.85"/><circle cx="579.0" cy="144.0" r="1.85"/><circle cx="562.9" cy="130.3" r="1.85"/><circle cx="561.2" cy="130.3" r="1.85"/><circle cx="570.7" cy="128.2" r="1.85"/><circle cx="570.5" cy="138.7" r="1.85"/><circle cx="575.5" cy="132.7" r="1.85"/><circle cx="566.0" cy="127.7" r="1.85"/><circle cx="561.9" cy="141.0" r="1.85"/><circle cx="568.5" cy="138.7" r="1.85"/><circle cx="575.6" cy="143.3" r="1.85"/><circle cx="563.9" cy="139.6" r="1.85"/><circle cx="572.3" cy="131.8" r="1.85"/><circle cx="570.9" cy="139.8" r="1.85"/><circle cx="571.1" cy="135.8" r="1.85"/><circle cx="558.9" cy="134.8" r="1.85"/><circle cx="562.9" cy="131.8" r="1.85"/><circle cx="569.9" cy="145.1" r="1.85"/><circle cx="560.4" cy="144.2" r="1.85"/><circle cx="552.6" cy="133.2" r="1.85"/><circle cx="568.7" cy="133.2" r="1.85"/><circle cx="579.3" cy="134.8" r="1.85"/><circle cx="565.7" cy="103.0" r="1.85"/><circle cx="564.1" cy="107.4" r="1.85"/><circle cx="561.1" cy="100.2" r="1.85"/><circle cx="566.4" cy="104.7" r="1.85"/><circle cx="563.5" cy="95.0" r="1.85"/><circle cx="563.1" cy="101.9" r="1.85"/><circle cx="566.5" cy="105.3" r="1.85"/><circle cx="569.1" cy="99.7" r="1.85"/><circle cx="570.0" cy="99.5" r="1.85"/><circle cx="560.7" cy="102.2" r="1.85"/><circle cx="600.6" cy="103.9" r="1.85"/><circle cx="596.6" cy="92.3" r="1.85"/><circle cx="594.7" cy="106.3" r="1.85"/><circle cx="594.1" cy="107.5" r="1.85"/><circle cx="595.1" cy="104.8" r="1.85"/><circle cx="596.3" cy="100.1" r="1.85"/><circle cx="593.6" cy="102.2" r="1.85"/><circle cx="600.1" cy="98.9" r="1.85"/><circle cx="596.3" cy="95.9" r="1.85"/><circle cx="598.5" cy="101.3" r="1.85"/><circle cx="597.9" cy="106.9" r="1.85"/><circle cx="597.8" cy="104.8" r="1.85"/><circle cx="593.9" cy="102.1" r="1.85"/><circle cx="601.3" cy="102.8" r="1.85"/><circle cx="593.6" cy="95.2" r="1.85"/><circle cx="598.8" cy="99.6" r="1.85"/><circle cx="495.3" cy="99.4" r="1.85"/><circle cx="496.1" cy="96.0" r="1.85"/><circle cx="507.1" cy="100.1" r="1.85"/><circle cx="502.2" cy="98.3" r="1.85"/><circle cx="501.7" cy="93.1" r="1.85"/><circle cx="496.5" cy="100.4" r="1.85"/><circle cx="501.9" cy="96.7" r="1.85"/><circle cx="504.6" cy="91.3" r="1.85"/><circle cx="493.9" cy="97.3" r="1.85"/><circle cx="500.7" cy="94.7" r="1.85"/><circle cx="497.8" cy="91.5" r="1.85"/><circle cx="507.1" cy="94.5" r="1.85"/><circle cx="502.6" cy="101.6" r="1.85"/><circle cx="497.7" cy="95.5" r="1.85"/><circle cx="464.3" cy="170.6" r="1.85"/><circle cx="464.5" cy="172.7" r="1.85"/><circle cx="464.4" cy="171.1" r="1.85"/><circle cx="464.4" cy="175.1" r="1.85"/><circle cx="460.4" cy="213.1" r="1.85"/><circle cx="458.1" cy="205.8" r="1.85"/><circle cx="460.0" cy="205.7" r="1.85"/><circle cx="461.1" cy="203.4" r="1.85"/><circle cx="463.8" cy="206.2" r="1.85"/><circle cx="457.7" cy="207.8" r="1.85"/><circle cx="459.4" cy="215.8" r="1.85"/><circle cx="462.4" cy="211.7" r="1.85"/><circle cx="462.0" cy="217.9" r="1.85"/><circle cx="459.4" cy="211.6" r="1.85"/><circle cx="458.8" cy="216.3" r="1.85"/><circle cx="455.0" cy="215.3" r="1.85"/><circle cx="456.8" cy="214.0" r="1.85"/><circle cx="462.9" cy="209.4" r="1.85"/><circle cx="456.1" cy="226.6" r="1.85"/><circle cx="446.0" cy="244.4" r="1.85"/><circle cx="456.5" cy="231.3" r="1.85"/><circle cx="464.9" cy="241.7" r="1.85"/><circle cx="460.4" cy="250.0" r="1.85"/><circle cx="447.4" cy="242.0" r="1.85"/><circle cx="463.2" cy="229.2" r="1.85"/><circle cx="444.7" cy="232.5" r="1.85"/><circle cx="459.1" cy="225.4" r="1.85"/><circle cx="448.7" cy="233.0" r="1.85"/><circle cx="456.2" cy="244.8" r="1.85"/><circle cx="448.7" cy="246.1" r="1.85"/><circle cx="456.2" cy="233.1" r="1.85"/><circle cx="463.0" cy="228.6" r="1.85"/><circle cx="461.5" cy="228.8" r="1.85"/><circle cx="456.0" cy="239.9" r="1.85"/><circle cx="457.4" cy="232.3" r="1.85"/><circle cx="448.2" cy="246.5" r="1.85"/><circle cx="463.9" cy="236.4" r="1.85"/><circle cx="449.6" cy="226.2" r="1.85"/><circle cx="463.3" cy="233.9" r="1.85"/><circle cx="456.8" cy="235.9" r="1.85"/><circle cx="453.1" cy="249.4" r="1.85"/><circle cx="456.2" cy="230.0" r="1.85"/><circle cx="450.4" cy="242.5" r="1.85"/><circle cx="454.9" cy="228.8" r="1.85"/><circle cx="466.2" cy="237.9" r="1.85"/><circle cx="458.8" cy="238.4" r="1.85"/><circle cx="463.7" cy="226.1" r="1.85"/><circle cx="460.4" cy="238.7" r="1.85"/><circle cx="442.9" cy="232.1" r="1.85"/><circle cx="464.2" cy="246.7" r="1.85"/><circle cx="462.6" cy="230.5" r="1.85"/><circle cx="444.9" cy="239.5" r="1.85"/><circle cx="454.7" cy="224.9" r="1.85"/><circle cx="448.3" cy="237.5" r="1.85"/><circle cx="449.4" cy="243.8" r="1.85"/><circle cx="448.1" cy="234.9" r="1.85"/><circle cx="463.8" cy="246.4" r="1.85"/><circle cx="455.1" cy="234.8" r="1.85"/><circle cx="451.6" cy="230.3" r="1.85"/><circle cx="458.1" cy="241.7" r="1.85"/><circle cx="456.2" cy="231.4" r="1.85"/><circle cx="452.3" cy="226.6" r="1.85"/><circle cx="463.3" cy="229.6" r="1.85"/><circle cx="451.9" cy="236.5" r="1.85"/><circle cx="451.6" cy="227.2" r="1.85"/><circle cx="449.9" cy="232.0" r="1.85"/><circle cx="456.8" cy="230.8" r="1.85"/><circle cx="455.0" cy="230.0" r="1.85"/><circle cx="445.4" cy="233.1" r="1.85"/><circle cx="449.5" cy="233.2" r="1.85"/><circle cx="454.3" cy="234.1" r="1.85"/><circle cx="455.7" cy="228.9" r="1.85"/><circle cx="449.1" cy="227.9" r="1.85"/><circle cx="452.6" cy="228.3" r="1.85"/><circle cx="454.1" cy="228.1" r="1.85"/><circle cx="454.4" cy="229.0" r="1.85"/><circle cx="445.0" cy="233.6" r="1.85"/><circle cx="449.2" cy="231.6" r="1.85"/><circle cx="479.2" cy="201.4" r="1.85"/><circle cx="479.5" cy="197.2" r="1.85"/><circle cx="480.9" cy="198.9" r="1.85"/><circle cx="480.0" cy="199.2" r="1.85"/><circle cx="481.6" cy="195.1" r="1.85"/><circle cx="481.0" cy="194.3" r="1.85"/><circle cx="479.3" cy="195.1" r="1.85"/><circle cx="477.7" cy="197.7" r="1.85"/><circle cx="491.6" cy="199.4" r="1.85"/><circle cx="487.0" cy="205.7" r="1.85"/><circle cx="494.8" cy="204.1" r="1.85"/><circle cx="486.8" cy="203.0" r="1.85"/><circle cx="495.3" cy="204.3" r="1.85"/><circle cx="492.7" cy="199.1" r="1.85"/><circle cx="494.9" cy="209.5" r="1.85"/><circle cx="491.7" cy="210.6" r="1.85"/><circle cx="491.9" cy="208.7" r="1.85"/><circle cx="490.8" cy="206.4" r="1.85"/><circle cx="493.8" cy="206.5" r="1.85"/><circle cx="494.8" cy="201.2" r="1.85"/><circle cx="492.2" cy="200.5" r="1.85"/><circle cx="493.7" cy="201.5" r="1.85"/><circle cx="496.0" cy="201.5" r="1.85"/><circle cx="498.6" cy="205.3" r="1.85"/><circle cx="489.7" cy="208.8" r="1.85"/><circle cx="496.1" cy="206.6" r="1.85"/><circle cx="494.9" cy="201.4" r="1.85"/><circle cx="491.3" cy="206.7" r="1.85"/><circle cx="496.6" cy="174.1" r="1.85"/><circle cx="498.9" cy="174.7" r="1.85"/><circle cx="498.9" cy="183.1" r="1.85"/><circle cx="500.1" cy="181.0" r="1.85"/><circle cx="496.8" cy="179.6" r="1.85"/><circle cx="495.9" cy="174.9" r="1.85"/><circle cx="495.5" cy="178.7" r="1.85"/><circle cx="500.2" cy="176.8" r="1.85"/><circle cx="509.3" cy="173.8" r="1.85"/><circle cx="509.5" cy="172.8" r="1.85"/><circle cx="508.7" cy="186.8" r="1.85"/><circle cx="509.9" cy="198.7" r="1.85"/><circle cx="506.7" cy="185.5" r="1.85"/><circle cx="510.4" cy="194.8" r="1.85"/><circle cx="508.9" cy="193.7" r="1.85"/><circle cx="504.6" cy="181.3" r="1.85"/><circle cx="505.9" cy="193.7" r="1.85"/><circle cx="519.8" cy="191.9" r="1.85"/><circle cx="509.8" cy="175.9" r="1.85"/><circle cx="503.5" cy="197.7" r="1.85"/><circle cx="513.0" cy="192.2" r="1.85"/><circle cx="510.5" cy="170.8" r="1.85"/><circle cx="509.4" cy="170.8" r="1.85"/><circle cx="507.6" cy="178.5" r="1.85"/><circle cx="511.3" cy="202.3" r="1.85"/><circle cx="511.5" cy="185.5" r="1.85"/><circle cx="507.1" cy="199.3" r="1.85"/><circle cx="504.8" cy="193.4" r="1.85"/><circle cx="511.5" cy="188.2" r="1.85"/><circle cx="509.7" cy="206.3" r="1.85"/><circle cx="518.5" cy="191.1" r="1.85"/><circle cx="518.9" cy="190.4" r="1.85"/><circle cx="503.3" cy="181.0" r="1.85"/><circle cx="515.4" cy="185.7" r="1.85"/><circle cx="511.5" cy="200.9" r="1.85"/><circle cx="506.3" cy="174.8" r="1.85"/><circle cx="516.9" cy="184.2" r="1.85"/><circle cx="519.5" cy="188.6" r="1.85"/><circle cx="507.0" cy="175.8" r="1.85"/><circle cx="518.0" cy="197.1" r="1.85"/><circle cx="507.3" cy="202.0" r="1.85"/><circle cx="508.2" cy="206.2" r="1.85"/><circle cx="508.4" cy="197.3" r="1.85"/><circle cx="483.7" cy="216.5" r="1.85"/><circle cx="483.1" cy="211.4" r="1.85"/><circle cx="482.4" cy="219.5" r="1.85"/><circle cx="486.0" cy="216.2" r="1.85"/><circle cx="485.0" cy="218.5" r="1.85"/><circle cx="484.8" cy="217.0" r="1.85"/><circle cx="486.9" cy="216.6" r="1.85"/><circle cx="482.4" cy="216.5" r="1.85"/><circle cx="518.2" cy="244.3" r="1.85"/><circle cx="518.9" cy="234.2" r="1.85"/><circle cx="515.3" cy="231.1" r="1.85"/><circle cx="516.4" cy="222.0" r="1.85"/><circle cx="516.8" cy="242.0" r="1.85"/><circle cx="514.4" cy="240.3" r="1.85"/><circle cx="516.2" cy="250.4" r="1.85"/><circle cx="518.0" cy="215.6" r="1.85"/><circle cx="518.7" cy="217.0" r="1.85"/><circle cx="517.3" cy="220.6" r="1.85"/><circle cx="516.5" cy="221.4" r="1.85"/><circle cx="515.0" cy="238.8" r="1.85"/><circle cx="493.3" cy="256.7" r="1.85"/><circle cx="493.3" cy="250.4" r="1.85"/><circle cx="489.8" cy="258.4" r="1.85"/><circle cx="491.6" cy="255.3" r="1.85"/><circle cx="488.6" cy="252.8" r="1.85"/><circle cx="492.2" cy="252.3" r="1.85"/><circle cx="488.9" cy="252.6" r="1.85"/><circle cx="493.5" cy="250.5" r="1.85"/><circle cx="563.0" cy="229.0" r="1.85"/><circle cx="554.3" cy="228.4" r="1.85"/><circle cx="550.5" cy="229.2" r="1.85"/><circle cx="561.0" cy="228.6" r="1.85"/><circle cx="546.5" cy="229.5" r="1.85"/><circle cx="563.4" cy="229.9" r="1.85"/><circle cx="560.8" cy="229.5" r="1.85"/><circle cx="545.9" cy="229.3" r="1.85"/><circle cx="563.4" cy="230.2" r="1.85"/><circle cx="552.9" cy="233.7" r="1.85"/><circle cx="553.6" cy="227.9" r="1.85"/><circle cx="557.3" cy="223.5" r="1.85"/><circle cx="544.9" cy="231.6" r="1.85"/><circle cx="555.4" cy="224.6" r="1.85"/><circle cx="551.3" cy="223.5" r="1.85"/><circle cx="552.6" cy="226.2" r="1.85"/><circle cx="546.4" cy="225.2" r="1.85"/><circle cx="557.7" cy="229.1" r="1.85"/><circle cx="557.0" cy="226.0" r="1.85"/><circle cx="551.1" cy="226.5" r="1.85"/><circle cx="543.5" cy="228.9" r="1.85"/><circle cx="544.7" cy="231.7" r="1.85"/><circle cx="555.7" cy="230.4" r="1.85"/><circle cx="555.8" cy="226.8" r="1.85"/><circle cx="557.4" cy="225.0" r="1.85"/><circle cx="563.5" cy="207.6" r="1.85"/><circle cx="560.1" cy="208.8" r="1.85"/><circle cx="561.8" cy="208.7" r="1.85"/><circle cx="563.8" cy="201.7" r="1.85"/><circle cx="563.7" cy="197.6" r="1.85"/><circle cx="561.6" cy="208.6" r="1.85"/><circle cx="563.7" cy="208.5" r="1.85"/><circle cx="562.5" cy="197.1" r="1.85"/><circle cx="562.0" cy="202.1" r="1.85"/><circle cx="565.5" cy="203.2" r="1.85"/><circle cx="565.2" cy="205.6" r="1.85"/><circle cx="563.7" cy="202.9" r="1.85"/><circle cx="527.9" cy="195.2" r="1.85"/><circle cx="527.5" cy="175.4" r="1.85"/><circle cx="526.5" cy="179.2" r="1.85"/><circle cx="529.3" cy="173.4" r="1.85"/><circle cx="521.1" cy="194.4" r="1.85"/><circle cx="523.7" cy="191.7" r="1.85"/><circle cx="526.4" cy="182.4" r="1.85"/><circle cx="524.9" cy="184.2" r="1.85"/><circle cx="525.3" cy="180.6" r="1.85"/><circle cx="529.4" cy="185.3" r="1.85"/><circle cx="524.4" cy="188.7" r="1.85"/><circle cx="524.3" cy="181.6" r="1.85"/><circle cx="521.3" cy="188.8" r="1.85"/><circle cx="525.4" cy="182.4" r="1.85"/><circle cx="528.4" cy="194.9" r="1.85"/><circle cx="530.3" cy="178.6" r="1.85"/><circle cx="528.7" cy="177.7" r="1.85"/><circle cx="524.0" cy="195.3" r="1.85"/><circle cx="531.1" cy="187.3" r="1.85"/><circle cx="523.3" cy="173.9" r="1.85"/><circle cx="551.0" cy="184.8" r="1.85"/><circle cx="550.3" cy="182.1" r="1.85"/><circle cx="551.4" cy="182.6" r="1.85"/><circle cx="547.2" cy="187.3" r="1.85"/><circle cx="546.3" cy="182.0" r="1.85"/><circle cx="549.0" cy="190.0" r="1.85"/><circle cx="545.8" cy="188.2" r="1.85"/><circle cx="545.4" cy="187.6" r="1.85"/><circle cx="552.0" cy="183.1" r="1.85"/><circle cx="545.8" cy="182.5" r="1.85"/><circle cx="574.9" cy="181.1" r="1.85"/><circle cx="577.8" cy="172.7" r="1.85"/><circle cx="570.2" cy="189.4" r="1.85"/><circle cx="571.0" cy="189.9" r="1.85"/><circle cx="576.9" cy="174.7" r="1.85"/><circle cx="572.4" cy="173.6" r="1.85"/><circle cx="571.3" cy="172.3" r="1.85"/><circle cx="580.7" cy="175.2" r="1.85"/><circle cx="568.1" cy="192.6" r="1.85"/><circle cx="572.8" cy="186.4" r="1.85"/><circle cx="573.4" cy="175.6" r="1.85"/><circle cx="569.4" cy="178.8" r="1.85"/><circle cx="575.5" cy="198.3" r="1.85"/><circle cx="578.1" cy="177.8" r="1.85"/><circle cx="574.5" cy="195.7" r="1.85"/><circle cx="567.9" cy="193.5" r="1.85"/><circle cx="579.9" cy="177.8" r="1.85"/><circle cx="574.0" cy="199.8" r="1.85"/><circle cx="566.5" cy="188.8" r="1.85"/><circle cx="579.1" cy="182.0" r="1.85"/><circle cx="575.3" cy="187.1" r="1.85"/><circle cx="583.1" cy="176.7" r="1.85"/><circle cx="570.9" cy="176.8" r="1.85"/><circle cx="567.5" cy="192.2" r="1.85"/><circle cx="580.5" cy="178.3" r="1.85"/><circle cx="589.1" cy="199.3" r="1.85"/><circle cx="588.5" cy="193.7" r="1.85"/><circle cx="590.0" cy="198.1" r="1.85"/><circle cx="591.1" cy="202.1" r="1.85"/><circle cx="586.8" cy="197.0" r="1.85"/><circle cx="591.7" cy="199.7" r="1.85"/><circle cx="587.8" cy="196.5" r="1.85"/><circle cx="588.5" cy="205.7" r="1.85"/><circle cx="578.6" cy="223.5" r="1.85"/><circle cx="575.2" cy="224.4" r="1.85"/><circle cx="595.0" cy="233.5" r="1.85"/><circle cx="581.9" cy="214.0" r="1.85"/><circle cx="582.5" cy="222.5" r="1.85"/><circle cx="598.1" cy="221.5" r="1.85"/><circle cx="577.1" cy="235.2" r="1.85"/><circle cx="581.6" cy="225.9" r="1.85"/><circle cx="579.1" cy="226.0" r="1.85"/><circle cx="585.8" cy="233.6" r="1.85"/><circle cx="583.8" cy="215.2" r="1.85"/><circle cx="594.4" cy="232.0" r="1.85"/><circle cx="593.3" cy="213.0" r="1.85"/><circle cx="588.5" cy="233.4" r="1.85"/><circle cx="580.4" cy="238.4" r="1.85"/><circle cx="577.8" cy="228.8" r="1.85"/><circle cx="594.1" cy="211.6" r="1.85"/><circle cx="586.2" cy="226.6" r="1.85"/><circle cx="574.8" cy="219.9" r="1.85"/><circle cx="596.6" cy="232.0" r="1.85"/><circle cx="577.3" cy="231.6" r="1.85"/><circle cx="588.4" cy="237.1" r="1.85"/><circle cx="586.0" cy="240.5" r="1.85"/><circle cx="582.3" cy="231.1" r="1.85"/><circle cx="579.6" cy="215.0" r="1.85"/><circle cx="581.5" cy="228.6" r="1.85"/><circle cx="585.6" cy="229.3" r="1.85"/><circle cx="585.7" cy="222.7" r="1.85"/><circle cx="585.0" cy="232.6" r="1.85"/><circle cx="593.2" cy="230.4" r="1.85"/><circle cx="580.3" cy="230.0" r="1.85"/><circle cx="587.8" cy="240.0" r="1.85"/><circle cx="588.2" cy="241.7" r="1.85"/><circle cx="585.8" cy="240.6" r="1.85"/><circle cx="594.5" cy="225.9" r="1.85"/><circle cx="578.1" cy="219.5" r="1.85"/><circle cx="576.9" cy="235.7" r="1.85"/><circle cx="588.9" cy="222.0" r="1.85"/><circle cx="597.0" cy="224.4" r="1.85"/><circle cx="582.5" cy="240.8" r="1.85"/><circle cx="536.2" cy="217.4" r="1.85"/><circle cx="529.7" cy="217.8" r="1.85"/><circle cx="534.5" cy="220.9" r="1.85"/><circle cx="522.7" cy="220.0" r="1.85"/><circle cx="533.5" cy="222.9" r="1.85"/><circle cx="535.5" cy="214.9" r="1.85"/><circle cx="521.5" cy="219.6" r="1.85"/><circle cx="536.1" cy="219.5" r="1.85"/><circle cx="532.6" cy="214.8" r="1.85"/><circle cx="529.0" cy="220.1" r="1.85"/><circle cx="537.4" cy="217.7" r="1.85"/><circle cx="527.3" cy="216.6" r="1.85"/><circle cx="538.2" cy="245.8" r="1.85"/><circle cx="535.7" cy="256.2" r="1.85"/><circle cx="533.1" cy="234.4" r="1.85"/><circle cx="520.5" cy="239.6" r="1.85"/><circle cx="528.9" cy="237.6" r="1.85"/><circle cx="536.2" cy="249.8" r="1.85"/><circle cx="537.3" cy="232.1" r="1.85"/><circle cx="531.6" cy="243.1" r="1.85"/><circle cx="520.4" cy="246.8" r="1.85"/><circle cx="532.4" cy="231.5" r="1.85"/><circle cx="535.1" cy="230.4" r="1.85"/><circle cx="532.9" cy="230.8" r="1.85"/><circle cx="526.0" cy="242.5" r="1.85"/><circle cx="523.1" cy="242.9" r="1.85"/><circle cx="531.2" cy="255.2" r="1.85"/><circle cx="536.2" cy="256.1" r="1.85"/><circle cx="530.3" cy="235.3" r="1.85"/><circle cx="527.2" cy="231.0" r="1.85"/><circle cx="533.9" cy="251.9" r="1.85"/><circle cx="535.0" cy="250.5" r="1.85"/><circle cx="535.6" cy="251.6" r="1.85"/><circle cx="533.8" cy="255.5" r="1.85"/><circle cx="529.9" cy="257.9" r="1.85"/><circle cx="526.9" cy="233.5" r="1.85"/><circle cx="539.6" cy="240.3" r="1.85"/><circle cx="568.7" cy="244.6" r="1.85"/><circle cx="560.5" cy="239.4" r="1.85"/><circle cx="563.6" cy="251.8" r="1.85"/><circle cx="560.1" cy="236.2" r="1.85"/><circle cx="546.8" cy="243.1" r="1.85"/><circle cx="565.4" cy="249.5" r="1.85"/><circle cx="571.6" cy="253.0" r="1.85"/><circle cx="554.3" cy="240.3" r="1.85"/><circle cx="553.3" cy="236.8" r="1.85"/><circle cx="565.8" cy="246.5" r="1.85"/><circle cx="559.0" cy="242.5" r="1.85"/><circle cx="562.0" cy="256.8" r="1.85"/><circle cx="545.2" cy="242.1" r="1.85"/><circle cx="545.7" cy="244.0" r="1.85"/><circle cx="563.1" cy="244.2" r="1.85"/><circle cx="570.0" cy="249.5" r="1.85"/><circle cx="556.7" cy="250.6" r="1.85"/><circle cx="562.1" cy="238.0" r="1.85"/><circle cx="546.7" cy="244.4" r="1.85"/><circle cx="551.6" cy="242.8" r="1.85"/><circle cx="560.6" cy="246.7" r="1.85"/><circle cx="549.2" cy="241.5" r="1.85"/><circle cx="566.2" cy="243.0" r="1.85"/><circle cx="560.2" cy="239.4" r="1.85"/><circle cx="555.5" cy="244.7" r="1.85"/><circle cx="567.3" cy="241.6" r="1.85"/><circle cx="557.5" cy="246.4" r="1.85"/><circle cx="546.9" cy="248.0" r="1.85"/><circle cx="570.5" cy="241.8" r="1.85"/><circle cx="568.8" cy="243.9" r="1.85"/><circle cx="548.1" cy="244.4" r="1.85"/><circle cx="545.7" cy="242.8" r="1.85"/><circle cx="544.5" cy="247.0" r="1.85"/><circle cx="563.8" cy="236.6" r="1.85"/><circle cx="553.1" cy="256.6" r="1.85"/><circle cx="540.1" cy="209.8" r="1.85"/><circle cx="541.9" cy="208.0" r="1.85"/><circle cx="541.2" cy="211.2" r="1.85"/><circle cx="542.1" cy="213.5" r="1.85"/><circle cx="542.1" cy="199.8" r="1.85"/><circle cx="541.0" cy="204.0" r="1.85"/><circle cx="541.0" cy="198.5" r="1.85"/><circle cx="536.6" cy="204.5" r="1.85"/><circle cx="570.5" cy="218.7" r="1.85"/><circle cx="556.9" cy="220.1" r="1.85"/><circle cx="553.3" cy="216.9" r="1.85"/><circle cx="564.1" cy="219.8" r="1.85"/><circle cx="566.6" cy="212.7" r="1.85"/><circle cx="553.8" cy="219.0" r="1.85"/><circle cx="564.8" cy="212.9" r="1.85"/><circle cx="561.4" cy="219.4" r="1.85"/><circle cx="569.8" cy="213.1" r="1.85"/><circle cx="556.9" cy="219.5" r="1.85"/><circle cx="557.4" cy="213.3" r="1.85"/><circle cx="565.5" cy="218.9" r="1.85"/><circle cx="565.9" cy="211.1" r="1.85"/><circle cx="565.5" cy="217.4" r="1.85"/><circle cx="554.5" cy="212.5" r="1.85"/><circle cx="590.0" cy="249.8" r="1.85"/><circle cx="594.4" cy="251.3" r="1.85"/><circle cx="591.9" cy="244.1" r="1.85"/><circle cx="594.3" cy="247.2" r="1.85"/><circle cx="590.4" cy="243.5" r="1.85"/><circle cx="592.7" cy="254.9" r="1.85"/><circle cx="588.7" cy="249.4" r="1.85"/><circle cx="592.9" cy="243.6" r="1.85"/><circle cx="597.4" cy="253.2" r="1.85"/><circle cx="587.8" cy="242.9" r="1.85"/><circle cx="592.9" cy="239.2" r="1.85"/><circle cx="591.2" cy="253.2" r="1.85"/><circle cx="535.8" cy="248.7" r="1.85"/><circle cx="514.4" cy="245.0" r="1.85"/><circle cx="522.0" cy="245.2" r="1.85"/><circle cx="532.9" cy="247.2" r="1.85"/><circle cx="536.9" cy="247.7" r="1.85"/><circle cx="532.0" cy="244.4" r="1.85"/><circle cx="525.1" cy="246.3" r="1.85"/><circle cx="525.4" cy="251.7" r="1.85"/><circle cx="532.0" cy="250.4" r="1.85"/><circle cx="531.2" cy="248.5" r="1.85"/><circle cx="535.5" cy="247.1" r="1.85"/><circle cx="522.8" cy="250.7" r="1.85"/><circle cx="514.8" cy="245.2" r="1.85"/><circle cx="536.1" cy="247.5" r="1.85"/><circle cx="576.0" cy="189.3" r="1.85"/><circle cx="561.2" cy="209.3" r="1.85"/><circle cx="532.3" cy="214.3" r="1.85"/><circle cx="532.1" cy="197.0" r="1.85"/><circle cx="538.2" cy="218.4" r="1.85"/><circle cx="586.5" cy="214.0" r="1.85"/><circle cx="558.9" cy="185.8" r="1.85"/><circle cx="588.4" cy="207.2" r="1.85"/><circle cx="587.8" cy="192.1" r="1.85"/><circle cx="530.7" cy="229.8" r="1.85"/><circle cx="574.8" cy="226.2" r="1.85"/><circle cx="556.6" cy="207.4" r="1.85"/><circle cx="550.4" cy="198.0" r="1.85"/><circle cx="583.5" cy="206.0" r="1.85"/><circle cx="535.7" cy="201.6" r="1.85"/><circle cx="556.6" cy="189.4" r="1.85"/><circle cx="551.7" cy="188.8" r="1.85"/><circle cx="533.5" cy="238.2" r="1.85"/><circle cx="574.2" cy="191.1" r="1.85"/><circle cx="555.3" cy="230.0" r="1.85"/><circle cx="556.3" cy="194.6" r="1.85"/><circle cx="557.9" cy="244.1" r="1.85"/><circle cx="595.1" cy="199.8" r="1.85"/><circle cx="576.0" cy="187.8" r="1.85"/><circle cx="528.2" cy="200.8" r="1.85"/><circle cx="583.2" cy="185.1" r="1.85"/><circle cx="534.7" cy="205.7" r="1.85"/><circle cx="535.7" cy="235.1" r="1.85"/><circle cx="580.2" cy="199.9" r="1.85"/><circle cx="596.3" cy="217.9" r="1.85"/><circle cx="553.1" cy="216.0" r="1.85"/><circle cx="544.9" cy="225.2" r="1.85"/><circle cx="594.6" cy="205.8" r="1.85"/><circle cx="557.8" cy="176.9" r="1.85"/><circle cx="554.4" cy="196.0" r="1.85"/><circle cx="552.6" cy="217.0" r="1.85"/><circle cx="547.4" cy="212.2" r="1.85"/><circle cx="540.8" cy="231.8" r="1.85"/><circle cx="559.7" cy="252.1" r="1.85"/><circle cx="552.7" cy="216.6" r="1.85"/><circle cx="539.1" cy="197.0" r="1.85"/><circle cx="579.4" cy="251.4" r="1.85"/><circle cx="549.3" cy="249.1" r="1.85"/><circle cx="540.9" cy="189.6" r="1.85"/><circle cx="592.7" cy="203.3" r="1.85"/><circle cx="574.4" cy="231.1" r="1.85"/><circle cx="570.8" cy="220.1" r="1.85"/><circle cx="564.6" cy="178.4" r="1.85"/><circle cx="530.4" cy="227.7" r="1.85"/><circle cx="583.7" cy="191.2" r="1.85"/><circle cx="558.6" cy="251.0" r="1.85"/><circle cx="586.3" cy="219.9" r="1.85"/><circle cx="528.2" cy="219.3" r="1.85"/><circle cx="569.4" cy="202.7" r="1.85"/><circle cx="567.8" cy="206.1" r="1.85"/><circle cx="590.2" cy="190.0" r="1.85"/><circle cx="532.7" cy="227.7" r="1.85"/><circle cx="558.5" cy="173.8" r="1.85"/><circle cx="573.3" cy="237.0" r="1.85"/><circle cx="595.6" cy="228.8" r="1.85"/><circle cx="586.5" cy="212.4" r="1.85"/><circle cx="532.1" cy="201.2" r="1.85"/><circle cx="541.7" cy="234.9" r="1.85"/><circle cx="581.7" cy="200.3" r="1.85"/><circle cx="557.2" cy="191.2" r="1.85"/><circle cx="578.2" cy="251.5" r="1.85"/><circle cx="586.9" cy="222.5" r="1.85"/><circle cx="547.0" cy="190.0" r="1.85"/><circle cx="578.9" cy="184.7" r="1.85"/><circle cx="565.6" cy="182.6" r="1.85"/><circle cx="584.1" cy="195.9" r="1.85"/><circle cx="565.9" cy="225.6" r="1.85"/><circle cx="547.0" cy="218.8" r="1.85"/><circle cx="572.5" cy="219.0" r="1.85"/><circle cx="554.2" cy="231.4" r="1.85"/><circle cx="585.6" cy="202.5" r="1.85"/><circle cx="533.6" cy="226.4" r="1.85"/><circle cx="580.9" cy="180.3" r="1.85"/><circle cx="585.1" cy="186.0" r="1.85"/><circle cx="550.6" cy="221.8" r="1.85"/><circle cx="557.8" cy="189.0" r="1.85"/><circle cx="573.4" cy="183.3" r="1.85"/><circle cx="547.6" cy="239.9" r="1.85"/><circle cx="573.0" cy="229.2" r="1.85"/><circle cx="550.1" cy="194.7" r="1.85"/><circle cx="556.4" cy="252.6" r="1.85"/><circle cx="566.8" cy="230.2" r="1.85"/><circle cx="528.8" cy="218.3" r="1.85"/><circle cx="538.9" cy="183.4" r="1.85"/><circle cx="532.3" cy="230.5" r="1.85"/><circle cx="563.8" cy="251.5" r="1.85"/><circle cx="583.7" cy="240.2" r="1.85"/><circle cx="557.9" cy="238.6" r="1.85"/><circle cx="575.4" cy="218.3" r="1.85"/><circle cx="586.1" cy="203.6" r="1.85"/><circle cx="599.2" cy="214.6" r="1.85"/><circle cx="555.0" cy="195.7" r="1.85"/><circle cx="564.7" cy="238.1" r="1.85"/><circle cx="560.8" cy="225.7" r="1.85"/><circle cx="546.4" cy="233.3" r="1.85"/><circle cx="569.7" cy="243.3" r="1.85"/><circle cx="569.9" cy="217.9" r="1.85"/><circle cx="551.6" cy="205.4" r="1.85"/><circle cx="596.6" cy="227.6" r="1.85"/><circle cx="594.4" cy="236.4" r="1.85"/><circle cx="568.6" cy="247.3" r="1.85"/><circle cx="562.7" cy="198.3" r="1.85"/><circle cx="582.9" cy="230.2" r="1.85"/><circle cx="572.5" cy="191.9" r="1.85"/><circle cx="569.2" cy="202.3" r="1.85"/><circle cx="581.5" cy="206.0" r="1.85"/><circle cx="562.4" cy="198.4" r="1.85"/><circle cx="574.7" cy="236.3" r="1.85"/><circle cx="546.4" cy="213.4" r="1.85"/><circle cx="568.6" cy="226.4" r="1.85"/><circle cx="584.5" cy="196.1" r="1.85"/><circle cx="583.8" cy="226.3" r="1.85"/><circle cx="555.4" cy="221.3" r="1.85"/><circle cx="589.7" cy="200.2" r="1.85"/><circle cx="581.6" cy="234.5" r="1.85"/><circle cx="582.9" cy="192.2" r="1.85"/><circle cx="558.7" cy="245.0" r="1.85"/><circle cx="568.8" cy="210.7" r="1.85"/><circle cx="562.8" cy="207.1" r="1.85"/><circle cx="562.2" cy="200.1" r="1.85"/><circle cx="549.3" cy="231.6" r="1.85"/><circle cx="593.1" cy="236.5" r="1.85"/><circle cx="593.5" cy="200.4" r="1.85"/><circle cx="589.7" cy="240.1" r="1.85"/><circle cx="585.1" cy="246.9" r="1.85"/><circle cx="556.5" cy="231.8" r="1.85"/><circle cx="569.0" cy="192.9" r="1.85"/><circle cx="585.9" cy="245.5" r="1.85"/><circle cx="548.2" cy="215.1" r="1.85"/><circle cx="559.5" cy="238.2" r="1.85"/><circle cx="586.7" cy="195.0" r="1.85"/><circle cx="577.7" cy="194.0" r="1.85"/><circle cx="580.0" cy="199.1" r="1.85"/><circle cx="586.6" cy="193.4" r="1.85"/><circle cx="582.9" cy="197.8" r="1.85"/><circle cx="589.8" cy="200.8" r="1.85"/><circle cx="579.9" cy="198.2" r="1.85"/><circle cx="589.6" cy="202.1" r="1.85"/><circle cx="583.8" cy="190.1" r="1.85"/><circle cx="590.3" cy="201.1" r="1.85"/><circle cx="579.4" cy="193.8" r="1.85"/><circle cx="590.3" cy="198.7" r="1.85"/><circle cx="578.2" cy="198.2" r="1.85"/><circle cx="581.7" cy="195.8" r="1.85"/><circle cx="501.2" cy="269.6" r="1.85"/><circle cx="494.8" cy="274.0" r="1.85"/><circle cx="491.5" cy="272.0" r="1.85"/><circle cx="494.6" cy="273.4" r="1.85"/><circle cx="495.4" cy="267.5" r="1.85"/><circle cx="494.6" cy="276.4" r="1.85"/><circle cx="491.1" cy="270.4" r="1.85"/><circle cx="495.5" cy="276.8" r="1.85"/><circle cx="498.1" cy="266.0" r="1.85"/><circle cx="496.1" cy="274.6" r="1.85"/><circle cx="500.8" cy="272.3" r="1.85"/><circle cx="492.5" cy="265.3" r="1.85"/><circle cx="493.6" cy="272.2" r="1.85"/><circle cx="498.8" cy="265.3" r="1.85"/><circle cx="479.2" cy="301.5" r="1.85"/><circle cx="478.0" cy="295.7" r="1.85"/><circle cx="475.0" cy="295.2" r="1.85"/><circle cx="479.2" cy="288.8" r="1.85"/><circle cx="477.5" cy="281.1" r="1.85"/><circle cx="479.3" cy="302.5" r="1.85"/><circle cx="479.1" cy="290.0" r="1.85"/><circle cx="471.9" cy="293.5" r="1.85"/><circle cx="479.5" cy="295.5" r="1.85"/><circle cx="475.4" cy="287.8" r="1.85"/><circle cx="477.8" cy="286.2" r="1.85"/><circle cx="479.4" cy="300.8" r="1.85"/><circle cx="474.3" cy="281.2" r="1.85"/><circle cx="478.3" cy="290.8" r="1.85"/><circle cx="476.9" cy="286.2" r="1.85"/><circle cx="475.0" cy="303.0" r="1.85"/><circle cx="477.0" cy="301.9" r="1.85"/><circle cx="473.1" cy="292.3" r="1.85"/><circle cx="472.6" cy="296.2" r="1.85"/><circle cx="483.8" cy="288.3" r="1.85"/><circle cx="510.2" cy="292.2" r="1.85"/><circle cx="507.4" cy="305.1" r="1.85"/><circle cx="511.8" cy="300.4" r="1.85"/><circle cx="500.6" cy="300.4" r="1.85"/><circle cx="504.3" cy="302.8" r="1.85"/><circle cx="509.5" cy="300.5" r="1.85"/><circle cx="513.3" cy="297.9" r="1.85"/><circle cx="509.0" cy="285.0" r="1.85"/><circle cx="504.5" cy="289.9" r="1.85"/><circle cx="508.8" cy="294.3" r="1.85"/><circle cx="504.1" cy="283.8" r="1.85"/><circle cx="507.0" cy="283.5" r="1.85"/><circle cx="511.5" cy="289.3" r="1.85"/><circle cx="508.9" cy="294.9" r="1.85"/><circle cx="510.4" cy="285.7" r="1.85"/><circle cx="513.5" cy="298.2" r="1.85"/><circle cx="504.5" cy="306.2" r="1.85"/><circle cx="512.4" cy="296.2" r="1.85"/><circle cx="499.1" cy="299.3" r="1.85"/><circle cx="515.0" cy="298.6" r="1.85"/><circle cx="495.6" cy="288.0" r="1.85"/><circle cx="506.2" cy="300.3" r="1.85"/><circle cx="513.8" cy="298.0" r="1.85"/><circle cx="497.1" cy="299.0" r="1.85"/><circle cx="508.9" cy="298.1" r="1.85"/><circle cx="495.4" cy="292.9" r="1.85"/><circle cx="507.0" cy="290.1" r="1.85"/><circle cx="512.0" cy="288.3" r="1.85"/><circle cx="496.4" cy="290.3" r="1.85"/><circle cx="512.2" cy="294.8" r="1.85"/><circle cx="505.0" cy="289.5" r="1.85"/><circle cx="511.9" cy="288.8" r="1.85"/><circle cx="502.0" cy="302.7" r="1.85"/><circle cx="506.2" cy="285.1" r="1.85"/><circle cx="501.5" cy="297.9" r="1.85"/><circle cx="498.5" cy="295.8" r="1.85"/><circle cx="505.4" cy="288.8" r="1.85"/><circle cx="503.9" cy="288.2" r="1.85"/><circle cx="512.7" cy="295.1" r="1.85"/><circle cx="498.8" cy="290.9" r="1.85"/><circle cx="491.2" cy="294.1" r="1.85"/><circle cx="492.6" cy="299.1" r="1.85"/><circle cx="491.3" cy="298.9" r="1.85"/><circle cx="489.9" cy="298.5" r="1.85"/><circle cx="491.5" cy="294.6" r="1.85"/><circle cx="514.6" cy="315.8" r="1.85"/><circle cx="511.7" cy="310.5" r="1.85"/><circle cx="500.1" cy="309.0" r="1.85"/><circle cx="510.4" cy="306.8" r="1.85"/><circle cx="503.7" cy="322.5" r="1.85"/><circle cx="497.0" cy="313.6" r="1.85"/><circle cx="509.9" cy="311.1" r="1.85"/><circle cx="503.3" cy="317.3" r="1.85"/><circle cx="499.3" cy="319.4" r="1.85"/><circle cx="503.3" cy="316.6" r="1.85"/><circle cx="514.4" cy="307.1" r="1.85"/><circle cx="503.6" cy="318.5" r="1.85"/><circle cx="515.7" cy="310.3" r="1.85"/><circle cx="497.7" cy="313.0" r="1.85"/><circle cx="517.2" cy="310.8" r="1.85"/><circle cx="508.3" cy="319.9" r="1.85"/><circle cx="507.2" cy="314.8" r="1.85"/><circle cx="518.2" cy="316.1" r="1.85"/><circle cx="518.7" cy="314.7" r="1.85"/><circle cx="510.2" cy="317.9" r="1.85"/><circle cx="503.7" cy="323.9" r="1.85"/><circle cx="500.5" cy="309.9" r="1.85"/><circle cx="514.5" cy="308.0" r="1.85"/><circle cx="513.7" cy="314.4" r="1.85"/><circle cx="514.9" cy="321.6" r="1.85"/><circle cx="526.6" cy="270.3" r="1.85"/><circle cx="530.3" cy="273.7" r="1.85"/><circle cx="532.9" cy="272.9" r="1.85"/><circle cx="532.6" cy="269.6" r="1.85"/><circle cx="527.7" cy="271.2" r="1.85"/><circle cx="531.8" cy="273.6" r="1.85"/><circle cx="530.5" cy="268.9" r="1.85"/><circle cx="521.5" cy="274.6" r="1.85"/><circle cx="574.6" cy="264.5" r="1.85"/><circle cx="573.5" cy="266.1" r="1.85"/><circle cx="589.3" cy="269.1" r="1.85"/><circle cx="558.6" cy="268.6" r="1.85"/><circle cx="579.9" cy="269.9" r="1.85"/><circle cx="590.8" cy="267.1" r="1.85"/><circle cx="552.8" cy="265.9" r="1.85"/><circle cx="552.0" cy="268.1" r="1.85"/><circle cx="580.1" cy="265.9" r="1.85"/><circle cx="577.6" cy="260.8" r="1.85"/><circle cx="591.5" cy="267.6" r="1.85"/><circle cx="558.7" cy="272.9" r="1.85"/><circle cx="570.3" cy="273.2" r="1.85"/><circle cx="562.5" cy="269.2" r="1.85"/><circle cx="568.0" cy="265.7" r="1.85"/><circle cx="562.4" cy="266.5" r="1.85"/><circle cx="586.6" cy="261.9" r="1.85"/><circle cx="582.2" cy="268.1" r="1.85"/><circle cx="590.2" cy="262.5" r="1.85"/><circle cx="594.0" cy="265.7" r="1.85"/><circle cx="581.8" cy="262.2" r="1.85"/><circle cx="566.4" cy="263.8" r="1.85"/><circle cx="575.3" cy="264.1" r="1.85"/><circle cx="581.2" cy="264.9" r="1.85"/><circle cx="563.5" cy="265.6" r="1.85"/><circle cx="580.3" cy="272.3" r="1.85"/><circle cx="561.3" cy="271.6" r="1.85"/><circle cx="576.3" cy="267.8" r="1.85"/><circle cx="561.9" cy="267.5" r="1.85"/><circle cx="584.5" cy="270.2" r="1.85"/><circle cx="567.2" cy="268.9" r="1.85"/><circle cx="574.2" cy="269.2" r="1.85"/><circle cx="558.0" cy="265.0" r="1.85"/><circle cx="575.7" cy="270.6" r="1.85"/><circle cx="560.0" cy="262.4" r="1.85"/><circle cx="587.4" cy="264.9" r="1.85"/><circle cx="554.5" cy="268.8" r="1.85"/><circle cx="569.3" cy="270.0" r="1.85"/><circle cx="564.5" cy="274.0" r="1.85"/><circle cx="595.3" cy="268.3" r="1.85"/><circle cx="572.2" cy="278.7" r="1.85"/><circle cx="567.6" cy="277.2" r="1.85"/><circle cx="570.0" cy="283.2" r="1.85"/><circle cx="574.2" cy="280.1" r="1.85"/><circle cx="571.9" cy="281.3" r="1.85"/><circle cx="565.3" cy="278.8" r="1.85"/><circle cx="571.3" cy="280.2" r="1.85"/><circle cx="570.7" cy="280.4" r="1.85"/><circle cx="596.0" cy="290.3" r="1.85"/><circle cx="594.1" cy="282.4" r="1.85"/><circle cx="581.6" cy="287.1" r="1.85"/><circle cx="585.4" cy="284.2" r="1.85"/><circle cx="594.6" cy="284.5" r="1.85"/><circle cx="593.0" cy="286.3" r="1.85"/><circle cx="587.2" cy="278.2" r="1.85"/><circle cx="590.8" cy="292.5" r="1.85"/><circle cx="596.3" cy="288.5" r="1.85"/><circle cx="590.7" cy="302.8" r="1.85"/><circle cx="595.9" cy="288.5" r="1.85"/><circle cx="582.4" cy="282.1" r="1.85"/><circle cx="593.6" cy="286.9" r="1.85"/><circle cx="590.1" cy="274.6" r="1.85"/><circle cx="581.8" cy="281.4" r="1.85"/><circle cx="588.4" cy="287.9" r="1.85"/><circle cx="584.9" cy="280.6" r="1.85"/><circle cx="583.1" cy="276.4" r="1.85"/><circle cx="590.7" cy="286.8" r="1.85"/><circle cx="588.4" cy="296.9" r="1.85"/><circle cx="581.4" cy="294.8" r="1.85"/><circle cx="583.6" cy="285.6" r="1.85"/><circle cx="588.8" cy="274.9" r="1.85"/><circle cx="583.5" cy="277.5" r="1.85"/><circle cx="588.4" cy="292.3" r="1.85"/><circle cx="582.1" cy="297.0" r="1.85"/><circle cx="581.0" cy="278.9" r="1.85"/><circle cx="588.7" cy="290.0" r="1.85"/><circle cx="582.9" cy="296.3" r="1.85"/><circle cx="595.8" cy="299.0" r="1.85"/><circle cx="484.0" cy="88.0" r="1.85"/><circle cx="464.0" cy="146.0" r="1.85"/><circle cx="462.0" cy="154.0" r="1.85"/><circle cx="461.5" cy="163.0" r="1.85"/><circle cx="461.0" cy="167.0" r="1.85"/><circle cx="463.0" cy="165.0" r="1.85"/><circle cx="496.0" cy="125.0" r="1.85"/><circle cx="502.0" cy="134.0" r="1.85"/><circle cx="485.0" cy="133.0" r="1.85"/><circle cx="488.0" cy="135.0" r="1.85"/><circle cx="476.0" cy="142.0" r="1.85"/><circle cx="485.0" cy="148.0" r="1.85"/><circle cx="495.0" cy="138.0" r="1.85"/><circle cx="496.0" cy="143.0" r="1.85"/><circle cx="498.0" cy="148.0" r="1.85"/><circle cx="502.0" cy="148.0" r="1.85"/><circle cx="507.0" cy="146.0" r="1.85"/><circle cx="510.0" cy="142.0" r="1.85"/><circle cx="505.0" cy="152.0" r="1.85"/><circle cx="501.0" cy="155.0" r="1.85"/><circle cx="498.0" cy="157.0" r="1.85"/><circle cx="508.0" cy="158.0" r="1.85"/><circle cx="505.0" cy="163.0" r="1.85"/><circle cx="510.0" cy="163.0" r="1.85"/><circle cx="516.0" cy="154.0" r="1.85"/><circle cx="515.0" cy="128.0" r="1.85"/><circle cx="516.0" cy="121.0" r="1.85"/><circle cx="513.0" cy="125.0" r="1.85"/><circle cx="516.0" cy="106.0" r="1.85"/><circle cx="518.0" cy="114.0" r="1.85"/><circle cx="519.0" cy="118.0" r="1.85"/><circle cx="475.0" cy="166.0" r="1.85"/><circle cx="529.0" cy="102.0" r="1.85"/><circle cx="540.0" cy="102.0" r="1.85"/><circle cx="536.0" cy="113.0" r="1.85"/><circle cx="531.5" cy="116.0" r="1.85"/><circle cx="531.0" cy="131.0" r="1.85"/><circle cx="532.0" cy="145.0" r="1.85"/><circle cx="531.5" cy="155.0" r="1.85"/><circle cx="531.5" cy="156.5" r="1.85"/><circle cx="540.0" cy="161.0" r="1.85"/><circle cx="534.6" cy="165.0" r="1.85"/><circle cx="550.0" cy="153.0" r="1.85"/><circle cx="554.0" cy="164.0" r="1.85"/><circle cx="566.0" cy="159.0" r="1.85"/><circle cx="572.0" cy="161.0" r="1.85"/><circle cx="557.0" cy="148.5" r="1.85"/><circle cx="562.0" cy="148.0" r="1.85"/><circle cx="553.0" cy="142.0" r="1.85"/><circle cx="574.0" cy="147.0" r="1.85"/><circle cx="574.0" cy="150.0" r="1.85"/><circle cx="579.0" cy="145.0" r="1.85"/><circle cx="578.0" cy="168.0" r="1.85"/><circle cx="583.0" cy="123.0" r="1.85"/><circle cx="574.0" cy="126.0" r="1.85"/><circle cx="463.0" cy="181.0" r="1.85"/><circle cx="458.5" cy="184.6" r="1.85"/><circle cx="464.0" cy="188.5" r="1.85"/><circle cx="457.7" cy="195.0" r="1.85"/><circle cx="458.5" cy="197.7" r="1.85"/><circle cx="473.0" cy="247.0" r="1.85"/><circle cx="476.0" cy="190.0" r="1.85"/><circle cx="474.6" cy="197.0" r="1.85"/><circle cx="491.5" cy="190.0" r="1.85"/><circle cx="476.0" cy="209.0" r="1.85"/><circle cx="471.5" cy="227.7" r="1.85"/><circle cx="477.7" cy="225.0" r="1.85"/><circle cx="482.0" cy="231.0" r="1.85"/><circle cx="481.0" cy="234.6" r="1.85"/><circle cx="493.0" cy="216.0" r="1.85"/><circle cx="494.6" cy="222.0" r="1.85"/><circle cx="493.0" cy="227.0" r="1.85"/><circle cx="488.5" cy="223.0" r="1.85"/><circle cx="497.7" cy="231.5" r="1.85"/><circle cx="493.0" cy="235.0" r="1.85"/><circle cx="497.7" cy="237.7" r="1.85"/><circle cx="499.0" cy="242.0" r="1.85"/><circle cx="504.0" cy="216.0" r="1.85"/><circle cx="507.0" cy="211.5" r="1.85"/><circle cx="505.0" cy="221.0" r="1.85"/><circle cx="502.0" cy="223.0" r="1.85"/><circle cx="510.0" cy="250.0" r="1.85"/><circle cx="513.0" cy="247.0" r="1.85"/><circle cx="465.0" cy="258.5" r="1.85"/><circle cx="464.6" cy="260.8" r="1.85"/><circle cx="481.0" cy="264.0" r="1.85"/><circle cx="488.5" cy="263.0" r="1.85"/><circle cx="487.7" cy="282.0" r="1.85"/><circle cx="490.8" cy="274.0" r="1.85"/><circle cx="514.0" cy="281.0" r="1.85"/><circle cx="517.7" cy="274.0" r="1.85"/><circle cx="487.0" cy="309.0" r="1.85"/><circle cx="545.0" cy="266.0" r="1.85"/><circle cx="551.0" cy="276.0" r="1.85"/><circle cx="558.0" cy="285.0" r="1.85"/><circle cx="566.0" cy="291.5" r="1.85"/><circle cx="572.0" cy="291.5" r="1.85"/><circle cx="576.0" cy="290.0" r="1.85"/><circle cx="583.0" cy="301.0" r="1.85"/><circle cx="582.0" cy="311.0" r="1.85"/><circle cx="592.0" cy="306.0" r="1.85"/><circle cx="522.0" cy="288.5" r="1.85"/><circle cx="531.0" cy="290.0" r="1.85"/><circle cx="524.0" cy="298.5" r="1.85"/><circle cx="531.5" cy="304.6" r="1.85"/><circle cx="536.0" cy="301.0" r="1.85"/><circle cx="539.0" cy="304.0" r="1.85"/><circle cx="528.5" cy="312.0" r="1.85"/><circle cx="562.0" cy="311.5" r="1.85"/><circle cx="468.5" cy="391.5" r="1.85"/><circle cx="468.5" cy="394.6" r="1.85"/><circle cx="484.0" cy="404.0" r="1.85"/><circle cx="488.5" cy="401.0" r="1.85"/><circle cx="477.0" cy="407.0" r="1.85"/><circle cx="492.0" cy="419.0" r="1.85"/><circle cx="483.0" cy="403.6" r="1.85"/><circle cx="538.6" cy="424.7" r="1.85"/><circle cx="550.0" cy="418.0" r="1.85"/><circle cx="508.8" cy="158.0" r="1.85"/><circle cx="506.0" cy="163.4" r="1.85"/><circle cx="502.0" cy="170.0" r="1.85"/><circle cx="507.4" cy="172.8" r="1.85"/><circle cx="516.8" cy="168.8" r="1.85"/><circle cx="526.0" cy="171.4" r="1.85"/><circle cx="510.0" cy="166.0" r="1.85"/><circle cx="504.8" cy="160.7" r="1.85"/><circle cx="585.6" cy="168.0" r="1.85"/><circle cx="579.0" cy="169.4" r="1.85"/><circle cx="582.5" cy="175.6" r="1.85"/><circle cx="585.4" cy="159.8" r="1.85"/><circle cx="591.5" cy="152.1" r="1.85"/><circle cx="586.1" cy="160.0" r="1.85"/><circle cx="592.9" cy="148.9" r="1.85"/><circle cx="589.8" cy="155.8" r="1.85"/><circle cx="585.9" cy="157.8" r="1.85"/><circle cx="594.0" cy="149.2" r="1.85"/><circle cx="591.5" cy="156.4" r="1.85"/><circle cx="594.8" cy="148.0" r="1.85"/><circle cx="587.7" cy="160.3" r="1.85"/><circle cx="597.0" cy="148.9" r="1.85"/><circle cx="588.4" cy="154.5" r="1.85"/><circle cx="597.3" cy="146.4" r="1.85"/><circle cx="591.3" cy="152.4" r="1.85"/><circle cx="592.0" cy="149.5" r="1.85"/><circle cx="594.7" cy="146.0" r="1.85"/><circle cx="595.1" cy="148.4" r="1.85"/><circle cx="593.1" cy="153.4" r="1.85"/><circle cx="468.8" cy="141.8" r="1.85"/><circle cx="472.8" cy="127.2" r="1.85"/><circle cx="467.0" cy="145.0" r="1.85"/><circle cx="472.8" cy="133.0" r="1.85"/><circle cx="471.7" cy="128.6" r="1.85"/><circle cx="469.4" cy="140.4" r="1.85"/><circle cx="469.7" cy="137.3" r="1.85"/><circle cx="471.2" cy="134.7" r="1.85"/><circle cx="470.6" cy="137.1" r="1.85"/><circle cx="471.7" cy="135.8" r="1.85"/><circle cx="467.9" cy="141.6" r="1.85"/><circle cx="466.4" cy="142.2" r="1.85"/><circle cx="471.1" cy="129.6" r="1.85"/><circle cx="471.2" cy="136.4" r="1.85"/><circle cx="471.5" cy="129.6" r="1.85"/><circle cx="474.1" cy="130.2" r="1.85"/><circle cx="472.2" cy="130.1" r="1.85"/><circle cx="473.0" cy="133.3" r="1.85"/><circle cx="467.6" cy="140.6" r="1.85"/><circle cx="467.6" cy="141.2" r="1.85"/><circle cx="467.5" cy="408.3" r="1.85"/><circle cx="481.5" cy="415.3" r="1.85"/><circle cx="453.7" cy="374.6" r="1.85"/><circle cx="469.3" cy="412.4" r="1.85"/><circle cx="463.7" cy="404.3" r="1.85"/><circle cx="467.7" cy="409.7" r="1.85"/><circle cx="463.4" cy="386.9" r="1.85"/><circle cx="456.9" cy="380.0" r="1.85"/><circle cx="467.6" cy="412.1" r="1.85"/><circle cx="480.0" cy="419.6" r="1.85"/><circle cx="483.9" cy="420.2" r="1.85"/><circle cx="479.0" cy="420.0" r="1.85"/><circle cx="460.3" cy="383.1" r="1.85"/><circle cx="483.8" cy="419.8" r="1.85"/><circle cx="462.8" cy="394.7" r="1.85"/><circle cx="456.4" cy="378.1" r="1.85"/><circle cx="459.0" cy="370.4" r="1.85"/><circle cx="462.2" cy="388.3" r="1.85"/><circle cx="457.9" cy="391.4" r="1.85"/><circle cx="458.2" cy="374.8" r="1.85"/><circle cx="473.2" cy="414.9" r="1.85"/><circle cx="473.3" cy="418.0" r="1.85"/><circle cx="461.0" cy="372.9" r="1.85"/><circle cx="483.3" cy="424.1" r="1.85"/><circle cx="483.5" cy="419.2" r="1.85"/><circle cx="458.3" cy="392.7" r="1.85"/><circle cx="456.0" cy="373.6" r="1.85"/><circle cx="484.2" cy="419.0" r="1.85"/><circle cx="454.7" cy="379.1" r="1.85"/><circle cx="478.7" cy="423.8" r="1.85"/><circle cx="464.6" cy="409.2" r="1.85"/><circle cx="457.9" cy="383.0" r="1.85"/><circle cx="471.0" cy="414.2" r="1.85"/><circle cx="460.8" cy="374.2" r="1.85"/><circle cx="463.3" cy="399.4" r="1.85"/><circle cx="475.1" cy="417.4" r="1.85"/><circle cx="458.3" cy="374.5" r="1.85"/><circle cx="464.5" cy="402.5" r="1.85"/><circle cx="474.8" cy="414.1" r="1.85"/><circle cx="477.1" cy="417.3" r="1.85"/><circle cx="457.5" cy="378.9" r="1.85"/><circle cx="467.8" cy="400.2" r="1.85"/><circle cx="480.1" cy="422.0" r="1.85"/><circle cx="470.0" cy="415.3" r="1.85"/><circle cx="464.3" cy="398.0" r="1.85"/><circle cx="485.8" cy="420.9" r="1.85"/><circle cx="463.5" cy="404.7" r="1.85"/><circle cx="460.8" cy="384.0" r="1.85"/><circle cx="463.1" cy="390.0" r="1.85"/><circle cx="467.9" cy="411.2" r="1.85"/><circle cx="461.8" cy="392.1" r="1.85"/><circle cx="464.3" cy="399.5" r="1.85"/><circle cx="463.8" cy="388.6" r="1.85"/><circle cx="469.2" cy="410.2" r="1.85"/><circle cx="457.9" cy="384.9" r="1.85"/><circle cx="514.6" cy="414.2" r="1.85"/><circle cx="542.7" cy="342.4" r="1.85"/><circle cx="518.9" cy="422.1" r="1.85"/><circle cx="569.2" cy="399.0" r="1.85"/><circle cx="495.3" cy="367.2" r="1.85"/><circle cx="552.1" cy="369.5" r="1.85"/><circle cx="542.8" cy="333.5" r="1.85"/><circle cx="529.8" cy="339.6" r="1.85"/><circle cx="504.7" cy="342.4" r="1.85"/><circle cx="539.9" cy="395.8" r="1.85"/><circle cx="542.1" cy="409.3" r="1.85"/><circle cx="508.1" cy="372.0" r="1.85"/><circle cx="521.9" cy="345.3" r="1.85"/><circle cx="545.5" cy="326.7" r="1.85"/><circle cx="570.3" cy="360.2" r="1.85"/><circle cx="508.1" cy="403.8" r="1.85"/><circle cx="518.9" cy="418.8" r="1.85"/><circle cx="573.1" cy="360.9" r="1.85"/><circle cx="535.8" cy="350.6" r="1.85"/><circle cx="560.5" cy="338.0" r="1.85"/><circle cx="527.1" cy="436.6" r="1.85"/><circle cx="506.9" cy="319.6" r="1.85"/><circle cx="548.2" cy="407.4" r="1.85"/><circle cx="534.6" cy="339.5" r="1.85"/><circle cx="549.4" cy="386.1" r="1.85"/><circle cx="499.4" cy="341.1" r="1.85"/><circle cx="566.9" cy="353.3" r="1.85"/><circle cx="517.8" cy="392.2" r="1.85"/><circle cx="537.2" cy="416.0" r="1.85"/><circle cx="546.3" cy="367.5" r="1.85"/><circle cx="544.5" cy="356.9" r="1.85"/><circle cx="554.1" cy="319.2" r="1.85"/><circle cx="529.8" cy="344.0" r="1.85"/><circle cx="545.1" cy="389.0" r="1.85"/><circle cx="530.4" cy="388.0" r="1.85"/><circle cx="555.5" cy="332.8" r="1.85"/><circle cx="549.1" cy="348.6" r="1.85"/><circle cx="530.0" cy="379.7" r="1.85"/><circle cx="568.2" cy="386.1" r="1.85"/><circle cx="550.8" cy="341.6" r="1.85"/><circle cx="495.0" cy="383.9" r="1.85"/><circle cx="568.6" cy="362.3" r="1.85"/><circle cx="529.9" cy="355.0" r="1.85"/><circle cx="544.8" cy="323.1" r="1.85"/><circle cx="552.7" cy="400.6" r="1.85"/><circle cx="527.5" cy="319.8" r="1.85"/><circle cx="543.1" cy="344.9" r="1.85"/><circle cx="562.4" cy="330.2" r="1.85"/><circle cx="525.8" cy="325.9" r="1.85"/><circle cx="529.6" cy="361.3" r="1.85"/><circle cx="566.4" cy="371.3" r="1.85"/><circle cx="569.5" cy="358.2" r="1.85"/><circle cx="491.0" cy="360.4" r="1.85"/><circle cx="525.7" cy="324.8" r="1.85"/><circle cx="494.8" cy="342.4" r="1.85"/><circle cx="538.5" cy="403.0" r="1.85"/><circle cx="520.1" cy="397.4" r="1.85"/><circle cx="546.6" cy="333.9" r="1.85"/><circle cx="504.1" cy="411.5" r="1.85"/><circle cx="527.5" cy="338.1" r="1.85"/><circle cx="561.4" cy="390.4" r="1.85"/><circle cx="536.9" cy="382.1" r="1.85"/><circle cx="543.2" cy="356.8" r="1.85"/><circle cx="551.1" cy="346.6" r="1.85"/><circle cx="544.6" cy="346.8" r="1.85"/><circle cx="503.0" cy="333.8" r="1.85"/><circle cx="556.4" cy="377.8" r="1.85"/><circle cx="530.2" cy="325.1" r="1.85"/><circle cx="521.9" cy="376.0" r="1.85"/><circle cx="515.2" cy="323.6" r="1.85"/><circle cx="543.9" cy="328.1" r="1.85"/><circle cx="574.7" cy="365.6" r="1.85"/><circle cx="566.7" cy="350.6" r="1.85"/><circle cx="566.7" cy="344.8" r="1.85"/><circle cx="528.5" cy="344.4" r="1.85"/><circle cx="560.1" cy="344.2" r="1.85"/><circle cx="526.1" cy="407.3" r="1.85"/><circle cx="542.0" cy="331.6" r="1.85"/><circle cx="536.0" cy="354.4" r="1.85"/><circle cx="554.1" cy="392.5" r="1.85"/><circle cx="517.8" cy="371.1" r="1.85"/><circle cx="515.9" cy="349.1" r="1.85"/><circle cx="530.3" cy="370.2" r="1.85"/><circle cx="520.3" cy="423.6" r="1.85"/><circle cx="515.7" cy="420.6" r="1.85"/><circle cx="562.6" cy="358.0" r="1.85"/><circle cx="556.2" cy="368.1" r="1.85"/><circle cx="494.5" cy="354.5" r="1.85"/><circle cx="547.1" cy="394.0" r="1.85"/><circle cx="502.5" cy="342.2" r="1.85"/><circle cx="536.5" cy="378.1" r="1.85"/><circle cx="520.9" cy="362.7" r="1.85"/><circle cx="552.3" cy="345.8" r="1.85"/><circle cx="551.7" cy="371.1" r="1.85"/><circle cx="502.7" cy="382.4" r="1.85"/><circle cx="531.3" cy="351.0" r="1.85"/><circle cx="503.4" cy="393.9" r="1.85"/><circle cx="534.4" cy="416.7" r="1.85"/><circle cx="534.3" cy="354.0" r="1.85"/><circle cx="536.5" cy="380.8" r="1.85"/><circle cx="512.0" cy="381.1" r="1.85"/><circle cx="528.5" cy="416.0" r="1.85"/><circle cx="495.6" cy="367.7" r="1.85"/><circle cx="517.5" cy="359.6" r="1.85"/><circle cx="534.3" cy="371.3" r="1.85"/><circle cx="534.5" cy="357.7" r="1.85"/><circle cx="574.4" cy="358.0" r="1.85"/><circle cx="506.2" cy="363.2" r="1.85"/><circle cx="552.9" cy="345.5" r="1.85"/><circle cx="532.5" cy="431.2" r="1.85"/><circle cx="553.2" cy="321.3" r="1.85"/><circle cx="493.0" cy="359.0" r="1.85"/><circle cx="515.1" cy="347.9" r="1.85"/><circle cx="516.5" cy="362.7" r="1.85"/><circle cx="501.4" cy="335.7" r="1.85"/><circle cx="529.5" cy="399.7" r="1.85"/><circle cx="541.9" cy="391.0" r="1.85"/><circle cx="524.5" cy="403.6" r="1.85"/><circle cx="526.9" cy="363.2" r="1.85"/><circle cx="503.3" cy="386.8" r="1.85"/><circle cx="521.3" cy="340.8" r="1.85"/><circle cx="497.2" cy="329.9" r="1.85"/><circle cx="523.3" cy="398.5" r="1.85"/><circle cx="547.4" cy="363.7" r="1.85"/><circle cx="512.1" cy="361.6" r="1.85"/><circle cx="529.0" cy="384.3" r="1.85"/><circle cx="530.9" cy="347.3" r="1.85"/><circle cx="558.8" cy="397.2" r="1.85"/><circle cx="517.3" cy="412.3" r="1.85"/><circle cx="511.9" cy="411.4" r="1.85"/><circle cx="520.8" cy="425.5" r="1.85"/><circle cx="504.4" cy="351.0" r="1.85"/><circle cx="512.4" cy="374.3" r="1.85"/><circle cx="508.9" cy="328.8" r="1.85"/><circle cx="513.3" cy="374.7" r="1.85"/><circle cx="530.3" cy="422.5" r="1.85"/><circle cx="527.7" cy="321.9" r="1.85"/><circle cx="558.7" cy="406.7" r="1.85"/><circle cx="489.7" cy="351.2" r="1.85"/><circle cx="516.8" cy="418.4" r="1.85"/><circle cx="536.2" cy="377.1" r="1.85"/><circle cx="537.5" cy="348.1" r="1.85"/><circle cx="552.3" cy="322.8" r="1.85"/><circle cx="490.8" cy="362.0" r="1.85"/><circle cx="552.8" cy="410.7" r="1.85"/><circle cx="489.4" cy="340.5" r="1.85"/><circle cx="536.7" cy="398.1" r="1.85"/><circle cx="509.8" cy="337.0" r="1.85"/><circle cx="505.4" cy="416.7" r="1.85"/><circle cx="525.6" cy="364.4" r="1.85"/><circle cx="504.5" cy="414.9" r="1.85"/><circle cx="545.7" cy="355.1" r="1.85"/><circle cx="508.6" cy="325.2" r="1.85"/><circle cx="505.8" cy="326.7" r="1.85"/><circle cx="498.2" cy="362.3" r="1.85"/><circle cx="518.4" cy="432.1" r="1.85"/><circle cx="503.8" cy="391.0" r="1.85"/><circle cx="553.6" cy="397.9" r="1.85"/><circle cx="555.8" cy="358.1" r="1.85"/><circle cx="567.7" cy="386.7" r="1.85"/><circle cx="525.5" cy="348.6" r="1.85"/><circle cx="558.3" cy="325.8" r="1.85"/><circle cx="504.8" cy="332.7" r="1.85"/><circle cx="551.2" cy="381.4" r="1.85"/><circle cx="552.3" cy="359.4" r="1.85"/><circle cx="551.6" cy="324.9" r="1.85"/><circle cx="508.8" cy="390.8" r="1.85"/><circle cx="533.4" cy="401.3" r="1.85"/><circle cx="539.7" cy="349.0" r="1.85"/><circle cx="542.7" cy="352.7" r="1.85"/><circle cx="538.2" cy="324.6" r="1.85"/><circle cx="557.0" cy="400.7" r="1.85"/><circle cx="512.2" cy="326.5" r="1.85"/><circle cx="573.6" cy="367.0" r="1.85"/><circle cx="523.9" cy="361.2" r="1.85"/><circle cx="510.1" cy="420.6" r="1.85"/><circle cx="557.3" cy="362.5" r="1.85"/><circle cx="528.6" cy="320.2" r="1.85"/><circle cx="541.7" cy="376.8" r="1.85"/><circle cx="515.4" cy="372.5" r="1.85"/><circle cx="541.3" cy="411.0" r="1.85"/><circle cx="566.1" cy="360.8" r="1.85"/><circle cx="500.0" cy="357.2" r="1.85"/><circle cx="524.8" cy="323.2" r="1.85"/><circle cx="563.6" cy="350.2" r="1.85"/><circle cx="548.7" cy="331.8" r="1.85"/><circle cx="490.9" cy="333.5" r="1.85"/><circle cx="527.9" cy="345.9" r="1.85"/><circle cx="554.4" cy="397.3" r="1.85"/><circle cx="530.9" cy="374.6" r="1.85"/><circle cx="498.0" cy="349.2" r="1.85"/><circle cx="549.7" cy="410.9" r="1.85"/><circle cx="551.5" cy="398.8" r="1.85"/><circle cx="543.2" cy="385.5" r="1.85"/><circle cx="526.0" cy="426.8" r="1.85"/><circle cx="518.0" cy="358.9" r="1.85"/><circle cx="572.6" cy="367.2" r="1.85"/><circle cx="539.6" cy="360.6" r="1.85"/><circle cx="517.3" cy="329.7" r="1.85"/><circle cx="559.9" cy="397.8" r="1.85"/><circle cx="529.7" cy="330.3" r="1.85"/><circle cx="529.2" cy="379.8" r="1.85"/><circle cx="545.0" cy="410.2" r="1.85"/><circle cx="572.8" cy="370.8" r="1.85"/><circle cx="508.3" cy="417.1" r="1.85"/><circle cx="553.6" cy="388.3" r="1.85"/><circle cx="509.7" cy="403.2" r="1.85"/><circle cx="556.5" cy="362.9" r="1.85"/><circle cx="561.4" cy="327.8" r="1.85"/><circle cx="501.6" cy="364.8" r="1.85"/><circle cx="529.7" cy="393.4" r="1.85"/><circle cx="504.9" cy="377.6" r="1.85"/><circle cx="527.1" cy="408.5" r="1.85"/><circle cx="540.7" cy="371.0" r="1.85"/><circle cx="511.7" cy="372.3" r="1.85"/><circle cx="573.8" cy="379.3" r="1.85"/><circle cx="566.4" cy="337.1" r="1.85"/><circle cx="557.6" cy="368.1" r="1.85"/><circle cx="553.7" cy="334.5" r="1.85"/><circle cx="547.6" cy="332.1" r="1.85"/><circle cx="506.3" cy="320.8" r="1.85"/><circle cx="548.4" cy="379.9" r="1.85"/><circle cx="568.0" cy="376.3" r="1.85"/><circle cx="561.3" cy="364.4" r="1.85"/><circle cx="527.1" cy="387.5" r="1.85"/><circle cx="521.3" cy="424.0" r="1.85"/><circle cx="488.1" cy="350.3" r="1.85"/><circle cx="495.2" cy="365.6" r="1.85"/><circle cx="541.1" cy="374.4" r="1.85"/><circle cx="533.8" cy="419.9" r="1.85"/><circle cx="561.3" cy="376.7" r="1.85"/><circle cx="515.6" cy="343.0" r="1.85"/><circle cx="549.0" cy="388.2" r="1.85"/><circle cx="538.7" cy="397.1" r="1.85"/><circle cx="535.2" cy="381.6" r="1.85"/><circle cx="548.8" cy="382.3" r="1.85"/><circle cx="513.5" cy="413.9" r="1.85"/><circle cx="540.1" cy="339.9" r="1.85"/><circle cx="565.9" cy="366.2" r="1.85"/><circle cx="518.0" cy="396.2" r="1.85"/><circle cx="539.8" cy="317.3" r="1.85"/><circle cx="528.6" cy="401.7" r="1.85"/><circle cx="552.1" cy="325.1" r="1.85"/><circle cx="555.9" cy="385.1" r="1.85"/><circle cx="564.8" cy="375.4" r="1.85"/><circle cx="506.9" cy="340.1" r="1.85"/><circle cx="532.1" cy="394.0" r="1.85"/><circle cx="508.4" cy="390.7" r="1.85"/><circle cx="529.7" cy="360.6" r="1.85"/><circle cx="508.8" cy="333.8" r="1.85"/><circle cx="554.5" cy="392.8" r="1.85"/><circle cx="499.2" cy="380.4" r="1.85"/><circle cx="498.2" cy="330.9" r="1.85"/><circle cx="535.1" cy="397.7" r="1.85"/><circle cx="531.4" cy="399.0" r="1.85"/><circle cx="489.8" cy="344.6" r="1.85"/><circle cx="543.0" cy="415.3" r="1.85"/><circle cx="546.5" cy="333.7" r="1.85"/><circle cx="503.8" cy="405.4" r="1.85"/><circle cx="568.7" cy="377.8" r="1.85"/><circle cx="532.5" cy="335.5" r="1.85"/><circle cx="570.6" cy="370.0" r="1.85"/><circle cx="519.1" cy="324.0" r="1.85"/><circle cx="507.5" cy="347.2" r="1.85"/><circle cx="551.9" cy="395.3" r="1.85"/><circle cx="541.2" cy="374.7" r="1.85"/><circle cx="532.1" cy="351.2" r="1.85"/><circle cx="525.0" cy="432.3" r="1.85"/><circle cx="525.1" cy="413.0" r="1.85"/><circle cx="501.6" cy="325.8" r="1.85"/><circle cx="521.9" cy="401.3" r="1.85"/><circle cx="520.5" cy="397.1" r="1.85"/><circle cx="572.2" cy="385.3" r="1.85"/><circle cx="493.8" cy="374.3" r="1.85"/><circle cx="503.3" cy="384.6" r="1.85"/><circle cx="525.6" cy="394.3" r="1.85"/><circle cx="533.0" cy="389.4" r="1.85"/><circle cx="524.0" cy="355.3" r="1.85"/><circle cx="491.4" cy="363.4" r="1.85"/><circle cx="531.3" cy="425.4" r="1.85"/><circle cx="522.6" cy="373.9" r="1.85"/><circle cx="524.6" cy="352.6" r="1.85"/><circle cx="532.7" cy="429.2" r="1.85"/><circle cx="541.0" cy="410.1" r="1.85"/><circle cx="519.5" cy="363.3" r="1.85"/><circle cx="501.6" cy="355.5" r="1.85"/><circle cx="528.5" cy="402.3" r="1.85"/><circle cx="547.0" cy="359.9" r="1.85"/><circle cx="542.9" cy="337.5" r="1.85"/><circle cx="526.9" cy="341.5" r="1.85"/><circle cx="508.3" cy="356.1" r="1.85"/><circle cx="518.1" cy="317.3" r="1.85"/><circle cx="549.3" cy="382.0" r="1.85"/><circle cx="553.2" cy="347.5" r="1.85"/><circle cx="502.3" cy="366.3" r="1.85"/><circle cx="558.6" cy="404.8" r="1.85"/><circle cx="520.0" cy="412.4" r="1.85"/><circle cx="494.8" cy="359.0" r="1.85"/><circle cx="554.1" cy="370.5" r="1.85"/><circle cx="557.4" cy="336.1" r="1.85"/><circle cx="501.6" cy="403.0" r="1.85"/><circle cx="490.3" cy="365.3" r="1.85"/><circle cx="555.6" cy="379.8" r="1.85"/><circle cx="562.6" cy="354.2" r="1.85"/><circle cx="516.5" cy="385.5" r="1.85"/><circle cx="514.8" cy="406.2" r="1.85"/><circle cx="534.3" cy="384.8" r="1.85"/><circle cx="529.1" cy="319.4" r="1.85"/><circle cx="535.1" cy="389.8" r="1.85"/><circle cx="488.3" cy="339.5" r="1.85"/><circle cx="519.3" cy="427.4" r="1.85"/><circle cx="546.1" cy="382.2" r="1.85"/><circle cx="559.5" cy="358.3" r="1.85"/><circle cx="502.6" cy="391.1" r="1.85"/><circle cx="544.0" cy="328.2" r="1.85"/><circle cx="528.6" cy="409.7" r="1.85"/><circle cx="512.1" cy="332.8" r="1.85"/><circle cx="564.6" cy="347.1" r="1.85"/><circle cx="538.7" cy="332.0" r="1.85"/><circle cx="533.8" cy="347.3" r="1.85"/><circle cx="515.5" cy="338.4" r="1.85"/><circle cx="537.3" cy="405.2" r="1.85"/><circle cx="558.8" cy="342.6" r="1.85"/><circle cx="521.6" cy="424.4" r="1.85"/><circle cx="535.3" cy="355.3" r="1.85"/><circle cx="573.4" cy="386.6" r="1.85"/><circle cx="575.4" cy="364.2" r="1.85"/><circle cx="545.2" cy="358.1" r="1.85"/><circle cx="514.4" cy="395.9" r="1.85"/><circle cx="538.1" cy="408.8" r="1.85"/><circle cx="539.8" cy="339.8" r="1.85"/><circle cx="510.5" cy="413.5" r="1.85"/><circle cx="518.4" cy="397.4" r="1.85"/><circle cx="569.1" cy="399.5" r="1.85"/><circle cx="512.9" cy="378.5" r="1.85"/><circle cx="566.3" cy="338.3" r="1.85"/><circle cx="570.9" cy="364.3" r="1.85"/><circle cx="560.6" cy="333.3" r="1.85"/><circle cx="561.1" cy="373.6" r="1.85"/><circle cx="517.7" cy="412.1" r="1.85"/><circle cx="523.7" cy="340.9" r="1.85"/><circle cx="510.1" cy="361.2" r="1.85"/><circle cx="513.6" cy="367.6" r="1.85"/><circle cx="523.6" cy="362.8" r="1.85"/><circle cx="511.6" cy="334.9" r="1.85"/><circle cx="561.4" cy="359.4" r="1.85"/><circle cx="530.5" cy="435.1" r="1.85"/><circle cx="560.0" cy="354.9" r="1.85"/><circle cx="546.2" cy="382.5" r="1.85"/><circle cx="525.8" cy="349.1" r="1.85"/><circle cx="546.3" cy="353.9" r="1.85"/><circle cx="568.8" cy="382.5" r="1.85"/><circle cx="499.0" cy="382.5" r="1.85"/><circle cx="512.4" cy="405.5" r="1.85"/><circle cx="521.3" cy="343.6" r="1.85"/><circle cx="528.2" cy="373.4" r="1.85"/><circle cx="548.0" cy="381.9" r="1.85"/><circle cx="527.8" cy="355.3" r="1.85"/><circle cx="547.0" cy="405.2" r="1.85"/><circle cx="540.5" cy="339.8" r="1.85"/><circle cx="501.9" cy="344.5" r="1.85"/><circle cx="541.1" cy="381.1" r="1.85"/><circle cx="513.2" cy="412.8" r="1.85"/><circle cx="536.8" cy="347.9" r="1.85"/><circle cx="511.5" cy="341.0" r="1.85"/><circle cx="488.0" cy="343.4" r="1.85"/><circle cx="527.9" cy="385.7" r="1.85"/><circle cx="544.9" cy="325.4" r="1.85"/><circle cx="550.9" cy="358.9" r="1.85"/><circle cx="551.4" cy="375.5" r="1.85"/><circle cx="519.7" cy="374.5" r="1.85"/><circle cx="492.0" cy="344.4" r="1.85"/><circle cx="523.3" cy="411.0" r="1.85"/><circle cx="521.3" cy="406.9" r="1.85"/><circle cx="575.4" cy="365.0" r="1.85"/><circle cx="543.2" cy="362.2" r="1.85"/><circle cx="551.4" cy="371.2" r="1.85"/><circle cx="501.0" cy="323.7" r="1.85"/><circle cx="548.4" cy="336.2" r="1.85"/><circle cx="517.0" cy="401.7" r="1.85"/><circle cx="553.3" cy="327.8" r="1.85"/><circle cx="521.0" cy="393.7" r="1.85"/></g>
<rect x="65.5" y="8.5" width="670.0" height="509.4" fill="none" stroke="#262626" stroke-width="1.2"/>
<path d="M65.50 517.9v-6.7M65.50 8.5v6.7M177.17 517.9v-6.7M177.17 8.5v6.7M288.83 517.9v-6.7M288.83 8.5v6.7M400.50 517.9v-6.7M400.50 8.5v6.7M512.17 517.9v-6.7M512.17 8.5v6.7M623.83 517.9v-6.7M623.83 8.5v6.7M735.50 517.9v-6.7M735.50 8.5v6.7M65.5 517.90h6.7M735.5 517.90h-6.7M65.5 454.22h6.7M735.5 454.22h-6.7M65.5 390.55h6.7M735.5 390.55h-6.7M65.5 326.88h6.7M735.5 326.88h-6.7M65.5 263.20h6.7M735.5 263.20h-6.7M65.5 199.52h6.7M735.5 199.52h-6.7M65.5 135.85h6.7M735.5 135.85h-6.7M65.5 72.18h6.7M735.5 72.18h-6.7M65.5 8.50h6.7M735.5 8.50h-6.7" stroke="#262626" stroke-width="1.1" fill="none"/>
<g font-family="Liberation Sans, Arial, sans-serif" font-size="20" fill="#262626">
<text x="65.50" y="547" text-anchor="middle">-15</text>
<text x="177.17" y="547" text-anchor="middle">-10</text>
<text x="288.83" y="547" text-anchor="middle">-5</text>
<text x="400.50" y="547" text-anchor="middle">0</text>
<text x="512.17" y="547" text-anchor="middle">5</text>
<text x="623.83" y="547" text-anchor="middle">10</text>
<text x="735.50" y="547" text-anchor="middle">15</text>
<text x="56.5" y="525.40" text-anchor="end">-8</text>
<text x="56.5" y="461.72" text-anchor="end">-6</text>
<text x="56.5" y="398.05" text-anchor="end">-4</text>
<text x="56.5" y="334.38" text-anchor="end">-2</text>
<text x="56.5" y="270.70" text-anchor="end">0</text>
<text x="56.5" y="207.02" text-anchor="end">2</text>
<text x="56.5" y="143.35" text-anchor="end">4</text>
<text x="56.5" y="79.68" text-anchor="end">6</text>
<text x="56.5" y="16.00" text-anchor="end">8</text>
</g>
<g font-family="Liberation Serif, serif" font-weight="bold" font-size="32" fill="#262626" stroke="#fff" stroke-width="0.55">
<text transform="translate(345.2 577.6) scale(1.046 1)" x="-1.65" y="0">Comp<tspan x="83.68"> 1</tspan></text>
<text transform="translate(22.3 317.7) rotate(-90) scale(1.046 1)" x="-1.65" y="0">Comp<tspan x="83.30"> 2</tspan></text>
</g>
<rect x="90.5" y="368.5" width="314" height="123" fill="#fff" stroke="#262626" stroke-width="1.1"/>
<g font-family="Liberation Sans, Arial, sans-serif" font-size="18.5" fill="#000">
<text x="162.8" y="390.00">in cluster &gt;2, frames:12</text>
<text x="162.8" y="413.50">Cnn-ini-cluster1,frames:645</text>
<text x="162.8" y="437.00">Cnn-ini-cluster2,frames:213</text>
<text x="162.8" y="460.50">Cnn-added to:1,frames:297</text>
<text x="162.8" y="484.00">Cnn-added to:2,frames:1333</text>
</g>
<circle cx="127" cy="382.3" r="0.7" fill="#555"/>
<circle cx="591.1" cy="121.8" r="0.7" fill="#806090"/>
<circle cx="127" cy="406.5" r="2.4" fill="#b80010"/>
<circle cx="127" cy="429.8" r="2.4" fill="#3ca81c"/>
<circle cx="127" cy="453.3" r="2" fill="none" stroke="#b80010" stroke-width="1"/>
<circle cx="127" cy="476.8" r="2" fill="none" stroke="#4cb820" stroke-width="1"/>
</svg></body></html>
